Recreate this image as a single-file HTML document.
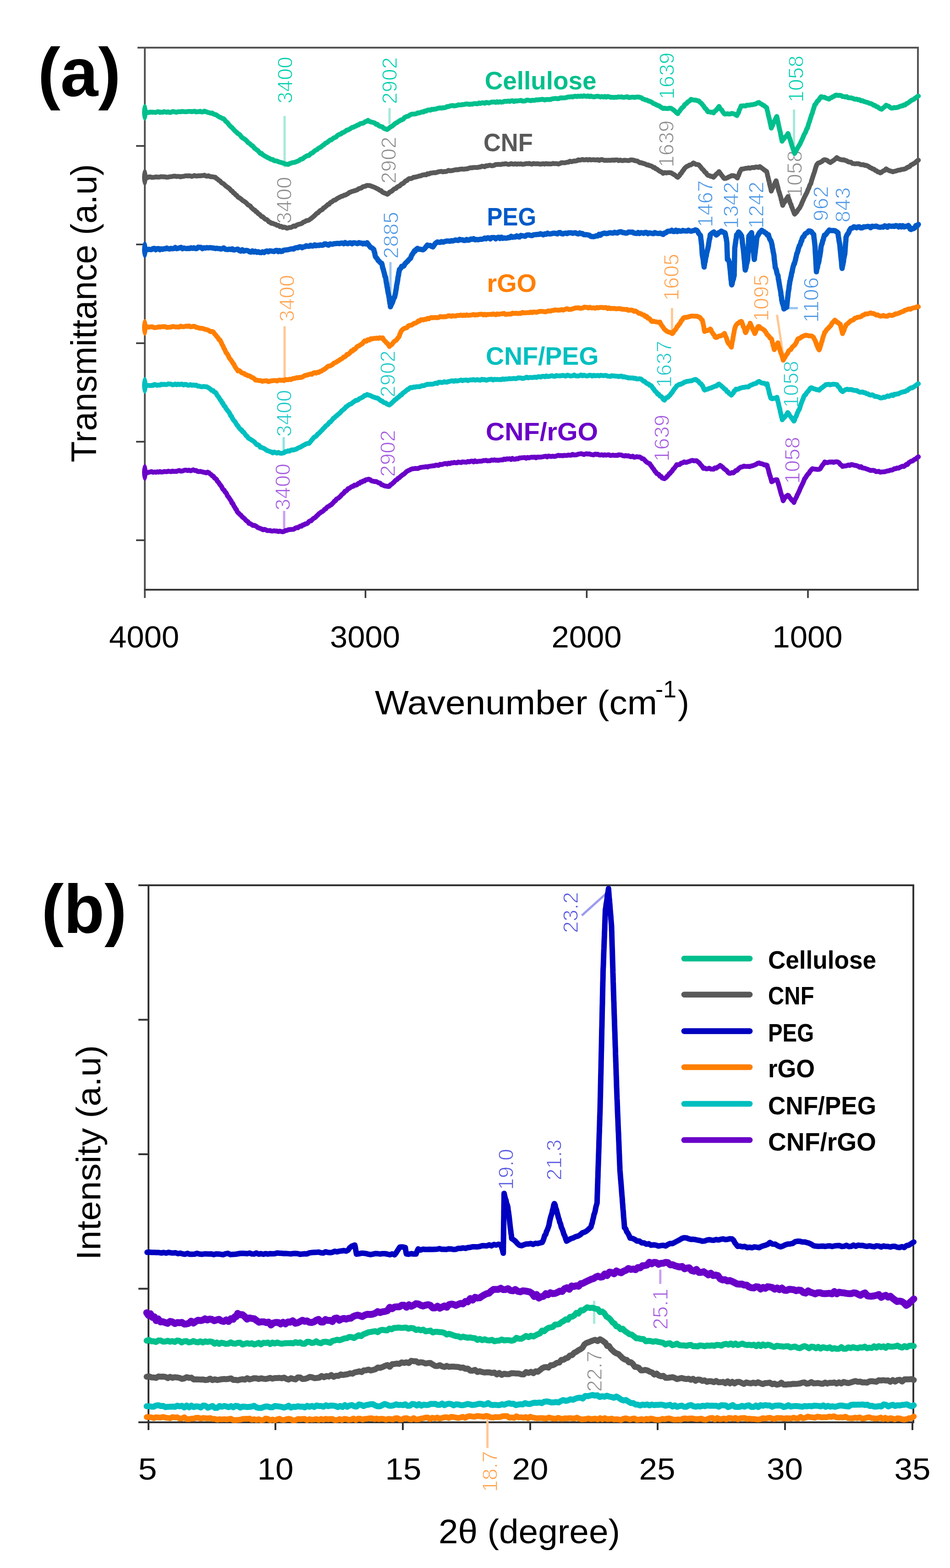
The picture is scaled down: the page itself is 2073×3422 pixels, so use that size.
<!DOCTYPE html>
<html><head><meta charset="utf-8"><title>FTIR and XRD spectra</title>
<style>html,body{margin:0;padding:0;background:#fff;}svg{display:block;}</style>
</head><body>
<svg width="2073" height="3422" viewBox="0 0 2073 3422" font-family="'Liberation Sans', Arial, sans-serif">
<rect width="2073" height="3422" fill="#fff"/>
<text x="173" y="210" font-size="150" fill="#000" font-weight="bold" text-anchor="middle" textLength="181" lengthAdjust="spacingAndGlyphs" >(a)</text>
<line x1="300" y1="104" x2="2005" y2="104" stroke="#555" stroke-width="4" stroke-linecap="butt"/>
<line x1="316" y1="102" x2="316" y2="1305" stroke="#555" stroke-width="4" stroke-linecap="butt"/>
<line x1="2003" y1="102" x2="2003" y2="1289" stroke="#555" stroke-width="4" stroke-linecap="butt"/>
<line x1="314" y1="1287" x2="2005" y2="1287" stroke="#3a3a3a" stroke-width="4" stroke-linecap="butt"/>
<line x1="297" y1="318.5" x2="316" y2="318.5" stroke="#3a3a3a" stroke-width="3.6" stroke-linecap="butt"/>
<line x1="297" y1="533.5" x2="316" y2="533.5" stroke="#3a3a3a" stroke-width="3.6" stroke-linecap="butt"/>
<line x1="297" y1="749" x2="316" y2="749" stroke="#3a3a3a" stroke-width="3.6" stroke-linecap="butt"/>
<line x1="297" y1="964" x2="316" y2="964" stroke="#3a3a3a" stroke-width="3.6" stroke-linecap="butt"/>
<line x1="297" y1="1179" x2="316" y2="1179" stroke="#3a3a3a" stroke-width="3.6" stroke-linecap="butt"/>
<line x1="797.5" y1="1287" x2="797.5" y2="1305" stroke="#3a3a3a" stroke-width="3.6" stroke-linecap="butt"/>
<line x1="1280.3" y1="1287" x2="1280.3" y2="1305" stroke="#3a3a3a" stroke-width="3.6" stroke-linecap="butt"/>
<line x1="1763" y1="1287" x2="1763" y2="1305" stroke="#3a3a3a" stroke-width="3.6" stroke-linecap="butt"/>
<text x="314.5" y="1413" font-size="66" fill="#000" font-weight="normal" text-anchor="middle" textLength="153" lengthAdjust="spacingAndGlyphs" >4000</text>
<text x="796.5" y="1413" font-size="66" fill="#000" font-weight="normal" text-anchor="middle" textLength="153" lengthAdjust="spacingAndGlyphs" >3000</text>
<text x="1280" y="1413" font-size="66" fill="#000" font-weight="normal" text-anchor="middle" textLength="153" lengthAdjust="spacingAndGlyphs" >2000</text>
<text x="1762" y="1413" font-size="66" fill="#000" font-weight="normal" text-anchor="middle" textLength="153" lengthAdjust="spacingAndGlyphs" >1000</text>
<text transform="translate(210 1009) rotate(-90)" font-size="77" fill="#000" font-weight="normal" text-anchor="start" textLength="651" lengthAdjust="spacingAndGlyphs" >Transmittance (a.u)</text>
<text x="818" y="1559" font-size="75" fill="#000" font-weight="normal" text-anchor="start" textLength="616" lengthAdjust="spacingAndGlyphs" >Wavenumber (cm</text>
<text x="1430" y="1522" font-size="52" fill="#000" font-weight="normal" text-anchor="start" textLength="46" lengthAdjust="spacingAndGlyphs" >-1</text>
<text x="1479" y="1559" font-size="75" fill="#000" font-weight="normal" text-anchor="start" textLength="25" lengthAdjust="spacingAndGlyphs" >)</text>
<line x1="621" y1="253" x2="621" y2="365" stroke="#a6e9da" stroke-width="5" stroke-linecap="butt"/>
<line x1="850" y1="236" x2="850" y2="271" stroke="#a6e9da" stroke-width="5" stroke-linecap="butt"/>
<line x1="1732.6" y1="239" x2="1732.6" y2="316" stroke="#a6e9da" stroke-width="5" stroke-linecap="butt"/>
<line x1="852" y1="572" x2="852" y2="660" stroke="#9cc6ef" stroke-width="5" stroke-linecap="butt"/>
<line x1="1718" y1="672.5" x2="1741" y2="672.5" stroke="#9cc6ef" stroke-width="5" stroke-linecap="butt"/>
<line x1="621" y1="712" x2="621" y2="824" stroke="#ffc894" stroke-width="5" stroke-linecap="butt"/>
<line x1="1466.4" y1="672" x2="1466.4" y2="723" stroke="#ffc894" stroke-width="5" stroke-linecap="butt"/>
<line x1="1695.5" y1="687" x2="1709" y2="776" stroke="#ffc894" stroke-width="5" stroke-linecap="butt"/>
<line x1="619" y1="954" x2="619" y2="984" stroke="#8ee4e4" stroke-width="5" stroke-linecap="butt"/>
<line x1="620" y1="1115" x2="620" y2="1154" stroke="#caa0f0" stroke-width="5" stroke-linecap="butt"/>
<text transform="translate(638.0 174.8) rotate(-90)" font-size="46" fill="#00cfae" font-weight="normal" text-anchor="middle" stroke="#fff" stroke-width="1.2">3400</text>
<text transform="translate(866.2 176.0) rotate(-90)" font-size="46" fill="#00cfae" font-weight="normal" text-anchor="middle" stroke="#fff" stroke-width="1.2">2902</text>
<text transform="translate(1471.2 165.5) rotate(-90)" font-size="46" fill="#00cfae" font-weight="normal" text-anchor="middle" stroke="#fff" stroke-width="1.2">1639</text>
<text transform="translate(1752.5 172.3) rotate(-90)" font-size="46" fill="#00cfae" font-weight="normal" text-anchor="middle" stroke="#fff" stroke-width="1.2">1058</text>
<text transform="translate(635.5 437.0) rotate(-90)" font-size="46" fill="#8c8c8c" font-weight="normal" text-anchor="middle" stroke="#fff" stroke-width="1.2">3400</text>
<text transform="translate(863.5 349.5) rotate(-90)" font-size="46" fill="#8c8c8c" font-weight="normal" text-anchor="middle" stroke="#fff" stroke-width="1.2">2902</text>
<text transform="translate(1470.0 313.8) rotate(-90)" font-size="46" fill="#8c8c8c" font-weight="normal" text-anchor="middle" stroke="#fff" stroke-width="1.2">1639</text>
<text transform="translate(1749.5 379.5) rotate(-90)" font-size="46" fill="#8c8c8c" font-weight="normal" text-anchor="middle" stroke="#fff" stroke-width="1.2">1058</text>
<text transform="translate(868.5 513.25) rotate(-90)" font-size="46" fill="#4a96e4" font-weight="normal" text-anchor="middle" stroke="#fff" stroke-width="1.2">2885</text>
<text transform="translate(1555.2 444.5) rotate(-90)" font-size="46" fill="#4a96e4" font-weight="normal" text-anchor="middle" stroke="#fff" stroke-width="1.2">1467</text>
<text transform="translate(1611.3 448.0) rotate(-90)" font-size="46" fill="#4a96e4" font-weight="normal" text-anchor="middle" stroke="#fff" stroke-width="1.2">1342</text>
<text transform="translate(1666.1 447.5) rotate(-90)" font-size="46" fill="#4a96e4" font-weight="normal" text-anchor="middle" stroke="#fff" stroke-width="1.2">1242</text>
<text transform="translate(1806.5 444.5) rotate(-90)" font-size="46" fill="#4a96e4" font-weight="normal" text-anchor="middle" stroke="#fff" stroke-width="1.2">962</text>
<text transform="translate(1855.1 447.04999999999995) rotate(-90)" font-size="46" fill="#4a96e4" font-weight="normal" text-anchor="middle" stroke="#fff" stroke-width="1.2">843</text>
<text transform="translate(1785.5 654.5) rotate(-90)" font-size="46" fill="#4a96e4" font-weight="normal" text-anchor="middle" stroke="#fff" stroke-width="1.2">1106</text>
<text transform="translate(641.5 651.0) rotate(-90)" font-size="46" fill="#ffa24c" font-weight="normal" text-anchor="middle" stroke="#fff" stroke-width="1.2">3400</text>
<text transform="translate(1481.0 604.8) rotate(-90)" font-size="46" fill="#ffa24c" font-weight="normal" text-anchor="middle" stroke="#fff" stroke-width="1.2">1605</text>
<text transform="translate(1677.0 650.0) rotate(-90)" font-size="46" fill="#ffa24c" font-weight="normal" text-anchor="middle" stroke="#fff" stroke-width="1.2">1095</text>
<text transform="translate(635.5 902.0) rotate(-90)" font-size="46" fill="#1cc8c8" font-weight="normal" text-anchor="middle" stroke="#fff" stroke-width="1.2">3400</text>
<text transform="translate(861.5 816.0) rotate(-90)" font-size="46" fill="#1cc8c8" font-weight="normal" text-anchor="middle" stroke="#fff" stroke-width="1.2">2902</text>
<text transform="translate(1465.1 794.9) rotate(-90)" font-size="46" fill="#1cc8c8" font-weight="normal" text-anchor="middle" stroke="#fff" stroke-width="1.2">1637</text>
<text transform="translate(1741.5 838.5) rotate(-90)" font-size="46" fill="#1cc8c8" font-weight="normal" text-anchor="middle" stroke="#fff" stroke-width="1.2">1058</text>
<text transform="translate(633.1 1062.85) rotate(-90)" font-size="46" fill="#a45ae0" font-weight="normal" text-anchor="middle" stroke="#fff" stroke-width="1.2">3400</text>
<text transform="translate(861.5 989.5) rotate(-90)" font-size="46" fill="#a45ae0" font-weight="normal" text-anchor="middle" stroke="#fff" stroke-width="1.2">2902</text>
<text transform="translate(1460.3 956.0) rotate(-90)" font-size="46" fill="#a45ae0" font-weight="normal" text-anchor="middle" stroke="#fff" stroke-width="1.2">1639</text>
<text transform="translate(1744.5 1004.5) rotate(-90)" font-size="46" fill="#a45ae0" font-weight="normal" text-anchor="middle" stroke="#fff" stroke-width="1.2">1058</text>
<path d="M316.0 245.0L319.0 244.2L322.0 245.6L325.0 245.4L328.0 244.4L331.0 244.9L334.0 244.7L337.0 245.1L340.0 245.4L343.0 243.9L346.0 243.8L349.0 245.4L352.0 244.5L355.0 245.2L358.0 243.6L361.0 244.5L364.0 245.0L367.0 244.0L370.0 245.4L373.0 245.3L376.1 243.5L379.1 243.4L382.2 244.4L385.2 245.1L388.2 244.0L391.3 243.6L394.3 244.0L397.4 243.1L400.4 243.5L403.4 243.8L406.5 243.9L409.5 243.3L412.6 243.3L415.6 243.2L418.6 243.7L421.7 243.3L424.7 242.7L427.8 244.3L430.8 243.7L433.8 243.8L436.9 242.8L439.9 244.4L443.0 244.1L446.0 242.5L449.4 243.7L452.8 245.1L456.2 245.8L459.6 247.0L463.0 246.6L465.8 248.8L468.6 249.8L471.4 250.4L474.2 252.3L477.0 254.3L479.6 255.8L482.2 256.7L484.8 258.5L487.4 259.0L490.0 261.0L492.2 264.5L494.5 266.2L496.8 268.1L499.0 271.3L501.2 274.0L503.5 276.3L505.7 278.0L507.9 280.3L510.1 282.7L512.4 285.4L514.6 287.1L516.8 289.1L519.0 291.5L521.5 292.6L523.9 294.7L526.4 298.1L528.8 300.7L531.2 301.9L533.7 303.6L536.1 305.2L538.6 307.9L541.0 310.9L543.5 312.5L546.0 314.3L548.4 317.1L550.9 318.1L553.3 320.8L555.8 323.9L558.2 325.4L560.6 327.3L563.1 329.1L565.5 331.9L568.0 334.9L570.7 334.6L573.3 337.7L576.0 339.3L578.7 341.0L581.3 342.3L584.0 344.0L586.7 344.9L589.3 346.6L592.0 347.9L595.1 348.1L598.2 350.7L601.4 351.1L604.5 351.4L607.6 353.0L610.8 354.0L613.9 354.7L617.0 355.7L620.0 356.8L623.0 357.7L626.0 358.5L629.0 358.9L632.0 356.9L635.0 356.2L638.0 354.9L641.0 354.6L644.0 354.0L647.0 352.7L650.0 351.6L653.0 350.1L656.0 347.5L659.0 347.2L662.0 345.3L665.0 342.7L668.0 341.0L671.0 339.5L674.0 339.5L676.6 336.7L679.2 334.6L681.7 333.8L684.3 331.4L686.9 329.1L689.5 327.5L692.1 326.4L694.6 323.9L697.2 322.3L699.8 321.3L702.4 319.0L704.9 316.9L707.5 315.4L710.1 312.7L712.7 311.6L715.3 309.9L717.8 307.6L720.4 305.6L723.0 305.4L725.6 303.1L728.2 300.9L730.8 300.1L733.5 299.0L736.1 295.8L738.7 294.3L741.3 292.9L743.9 292.5L746.5 289.8L749.1 289.4L751.8 287.7L754.4 285.9L757.0 283.7L759.6 283.7L762.5 282.0L765.4 280.1L768.3 278.2L771.2 277.7L774.1 275.9L777.0 275.0L779.9 273.1L782.7 272.5L785.6 270.0L788.5 269.2L791.4 269.2L794.3 267.7L797.2 265.2L800.1 265.0L803.0 262.6L805.9 265.1L808.8 266.0L811.8 266.6L814.7 267.5L817.6 268.3L820.5 271.3L823.2 270.9L825.9 273.8L828.7 275.5L831.4 276.1L834.1 276.6L836.8 279.4L839.6 280.9L842.3 281.8L845.0 282.7L847.7 280.6L850.3 278.6L853.0 276.4L855.7 275.4L858.3 273.1L861.0 270.7L863.7 268.6L866.3 267.8L869.0 265.2L871.7 264.0L874.4 262.0L877.2 261.5L879.9 259.9L882.6 256.5L885.3 255.3L888.1 253.9L890.8 253.6L893.5 251.6L896.5 249.9L899.6 248.9L902.6 249.1L905.6 248.7L908.7 248.1L911.7 246.2L914.7 246.5L917.8 245.4L920.8 244.2L923.8 244.5L926.8 242.2L929.9 242.5L932.9 240.4L935.9 239.8L939.0 240.6L942.0 238.4L945.1 239.0L948.1 238.1L951.2 238.1L954.2 236.6L957.3 236.0L960.3 235.4L963.4 236.1L966.4 235.0L969.5 235.2L972.5 234.5L975.6 232.5L978.6 232.8L981.7 231.4L984.7 230.7L987.8 230.3L990.8 231.3L993.9 230.6L996.9 230.2L1000.0 228.7L1003.0 229.0L1006.1 229.1L1009.1 228.1L1012.1 228.2L1015.2 227.3L1018.2 226.8L1021.2 227.0L1024.2 228.0L1027.3 227.1L1030.3 227.6L1033.3 226.4L1036.4 225.9L1039.4 226.6L1042.4 226.5L1045.5 224.6L1048.5 225.7L1051.5 224.4L1054.6 224.2L1057.6 225.5L1060.6 223.6L1063.7 223.8L1066.7 225.0L1069.7 223.7L1072.8 222.8L1075.8 222.7L1078.8 222.6L1081.8 223.4L1084.9 221.9L1087.9 223.3L1090.9 222.0L1094.0 223.0L1097.0 222.6L1100.1 221.2L1103.1 221.0L1106.2 221.3L1109.2 220.4L1112.3 221.4L1115.4 220.0L1118.4 219.8L1121.5 221.6L1124.6 220.0L1127.6 220.5L1130.7 220.0L1133.8 219.6L1136.8 219.0L1139.9 220.5L1142.9 220.5L1146.0 220.3L1149.1 218.5L1152.1 218.5L1155.2 219.2L1158.2 219.8L1161.3 218.7L1164.4 218.9L1167.4 218.7L1170.5 217.7L1173.6 218.1L1176.6 217.5L1179.7 217.2L1182.8 216.8L1185.8 217.0L1188.9 218.3L1191.9 217.0L1195.0 217.3L1198.0 217.0L1201.1 217.3L1204.1 215.9L1207.2 215.4L1210.2 215.1L1213.2 214.8L1216.3 215.5L1219.3 215.3L1222.4 213.8L1225.4 213.6L1228.5 213.7L1231.5 213.5L1234.5 213.2L1237.6 212.2L1240.6 211.4L1243.7 211.6L1246.7 210.9L1249.8 211.6L1252.8 210.3L1255.8 210.0L1258.9 210.8L1261.9 209.8L1265.0 210.5L1268.0 209.6L1271.0 210.4L1274.1 209.1L1277.1 209.9L1280.1 210.5L1283.2 209.2L1286.2 211.0L1289.3 209.6L1292.3 210.9L1295.3 211.4L1298.4 211.1L1301.4 210.2L1304.4 209.9L1307.5 210.8L1310.5 211.7L1313.6 210.5L1316.6 211.8L1319.6 210.4L1322.7 212.0L1325.7 210.4L1328.7 211.0L1331.8 212.3L1334.8 212.2L1337.9 212.5L1340.9 212.4L1343.9 212.3L1347.0 212.3L1350.0 211.4L1353.1 211.9L1356.3 211.3L1359.4 212.4L1362.6 212.3L1365.7 211.5L1368.9 211.1L1372.0 212.9L1375.1 212.6L1378.3 212.1L1381.4 212.1L1384.6 212.7L1387.7 211.9L1390.9 211.8L1394.0 211.7L1396.9 212.7L1399.8 213.4L1402.7 215.9L1405.6 216.6L1408.5 218.1L1411.4 218.3L1414.3 220.1L1417.2 220.9L1420.1 222.1L1423.0 223.5L1425.7 226.0L1428.3 226.6L1431.0 227.9L1433.7 229.7L1436.3 230.4L1439.0 231.3L1441.7 233.7L1444.3 235.0L1447.0 236.7L1450.5 236.3L1454.0 236.8L1457.5 236.9L1461.0 235.9L1464.5 236.4L1466.9 238.2L1469.3 239.5L1471.8 241.7L1474.2 243.8L1476.6 246.3L1479.0 248.1L1481.1 244.3L1483.2 242.4L1485.4 238.6L1487.5 236.1L1489.6 234.4L1491.8 232.5L1493.9 228.5L1496.0 227.1L1498.4 225.4L1500.8 222.4L1503.2 221.2L1505.6 219.6L1508.0 216.7L1511.4 217.9L1514.8 218.4L1518.2 218.6L1521.6 219.6L1525.0 220.1L1527.0 222.7L1529.0 224.3L1531.0 226.0L1533.0 228.6L1535.0 230.9L1537.0 234.1L1539.0 236.9L1541.0 237.9L1543.0 241.6L1545.0 244.1L1548.0 244.0L1551.0 244.9L1554.0 244.8L1557.0 246.5L1559.4 242.4L1561.8 241.6L1564.2 238.6L1566.6 235.6L1569.0 232.2L1571.0 236.2L1573.0 238.9L1575.0 239.9L1577.0 243.9L1579.0 246.6L1581.0 248.9L1584.2 248.8L1587.3 248.1L1590.5 248.9L1593.7 248.8L1596.8 247.4L1600.0 248.1L1602.7 249.1L1605.3 250.3L1608.0 252.4L1609.3 249.0L1610.6 247.6L1611.9 244.7L1613.1 240.1L1614.4 238.1L1615.7 234.8L1617.0 231.2L1620.1 231.2L1623.3 230.8L1626.4 231.4L1629.6 229.5L1632.7 229.5L1635.9 229.6L1639.0 228.4L1642.4 228.6L1645.8 227.5L1649.2 226.8L1652.6 224.5L1656.0 223.6L1658.8 225.8L1661.7 227.0L1664.5 229.4L1667.3 230.5L1670.2 233.1L1673.0 235.1L1673.7 238.1L1674.3 241.3L1675.0 243.4L1675.7 246.3L1676.3 249.9L1677.0 252.7L1677.7 255.3L1678.3 257.8L1679.0 260.6L1679.7 263.2L1680.3 267.5L1681.0 269.1L1681.7 273.3L1682.3 275.8L1683.0 279.6L1684.3 276.5L1685.7 274.2L1687.0 269.7L1688.3 267.7L1689.7 265.1L1691.0 261.9L1692.3 259.5L1693.7 256.5L1695.0 254.1L1695.6 256.0L1696.3 259.8L1696.9 262.8L1697.6 265.5L1698.2 268.6L1698.8 272.3L1699.5 275.1L1700.1 277.7L1700.8 280.9L1701.4 283.4L1702.0 286.0L1702.7 288.5L1703.3 292.0L1703.9 295.7L1704.6 299.2L1705.2 302.0L1705.9 304.4L1706.5 308.3L1708.7 304.6L1710.8 302.8L1713.0 299.3L1715.2 297.4L1717.3 295.3L1719.5 291.3L1720.5 293.9L1721.4 297.6L1722.4 300.3L1723.4 302.8L1724.3 305.0L1725.3 308.6L1726.3 311.5L1727.2 314.3L1728.2 318.1L1729.2 320.4L1730.1 323.6L1731.1 326.7L1732.1 329.3L1733.0 331.6L1734.0 335.0L1735.6 331.8L1737.3 328.9L1738.9 325.9L1740.6 322.5L1742.2 320.0L1743.9 317.0L1745.5 314.7L1746.9 311.4L1748.2 308.6L1749.6 305.6L1751.0 302.7L1752.4 299.4L1753.8 295.9L1755.1 292.9L1756.5 290.8L1757.9 288.2L1759.2 284.6L1760.6 280.9L1762.0 279.4L1762.9 275.7L1763.9 272.8L1764.8 269.0L1765.8 267.0L1766.7 264.6L1767.6 261.0L1768.6 257.9L1769.5 255.6L1770.5 251.4L1771.4 249.5L1772.4 247.4L1773.3 244.0L1774.2 240.5L1775.2 238.1L1776.1 235.1L1777.1 231.3L1778.0 228.4L1780.0 227.2L1782.0 223.3L1784.0 220.3L1786.0 219.3L1788.0 216.0L1790.0 213.1L1792.0 210.8L1795.4 212.3L1798.8 212.1L1802.2 214.0L1805.6 215.1L1809.0 216.3L1811.8 213.8L1814.7 213.0L1817.5 210.8L1820.3 210.0L1823.2 207.8L1826.0 207.6L1829.1 208.4L1832.2 208.0L1835.3 208.5L1838.4 210.7L1841.5 210.8L1844.5 211.8L1847.6 210.8L1850.7 213.3L1853.8 213.4L1856.9 213.5L1860.0 214.4L1863.1 215.8L1866.2 216.6L1869.4 216.2L1872.5 217.8L1875.6 217.6L1878.8 220.0L1881.9 219.7L1885.0 221.4L1888.0 222.3L1891.0 223.2L1894.0 223.8L1897.0 225.5L1900.0 225.9L1903.0 227.2L1906.0 229.5L1909.0 230.0L1912.0 232.5L1915.0 233.2L1918.0 235.8L1921.0 237.5L1924.0 238.4L1926.4 235.9L1928.8 234.3L1931.1 232.4L1933.5 229.5L1936.4 230.9L1939.3 231.9L1942.2 234.2L1945.1 236.0L1948.0 235.8L1951.0 234.6L1954.0 235.2L1957.0 234.6L1960.0 234.0L1963.0 232.5L1966.0 231.2L1969.0 231.3L1972.0 229.1L1975.0 229.4L1977.6 226.4L1980.3 225.3L1982.9 223.7L1985.5 221.7L1988.2 219.5L1990.8 217.9L1993.5 217.3L1996.1 214.8L1998.7 213.3L2001.4 210.8L2004.0 209.6" fill="none" stroke="#00bf8c" stroke-width="10.5" stroke-linejoin="round" stroke-linecap="round"/>
<ellipse cx="316" cy="245" rx="6" ry="18" fill="#00bf8c"/>
<path d="M316.0 387.0L319.0 387.8L322.0 387.7L325.0 385.9L328.0 385.9L331.0 387.3L334.0 387.0L337.0 386.8L340.0 386.0L343.0 386.5L346.0 386.5L349.0 386.3L352.0 385.4L355.0 385.9L358.0 385.8L361.0 386.3L364.0 386.8L367.0 386.6L370.0 385.8L373.0 385.5L376.0 385.1L379.0 384.5L382.0 384.4L385.0 385.2L388.0 384.9L391.0 384.9L394.0 385.9L397.0 385.1L400.1 385.0L403.1 384.2L406.2 383.6L409.2 384.0L412.3 383.5L415.4 384.1L418.4 384.9L421.5 384.1L424.6 383.0L427.6 384.2L430.7 383.9L433.8 383.6L436.8 383.8L439.9 383.3L442.9 383.2L446.0 382.2L449.0 384.0L452.0 384.5L455.0 383.5L458.0 385.3L461.0 385.7L464.0 385.8L467.0 386.5L470.0 387.0L472.5 389.8L475.0 391.0L477.5 393.7L480.0 394.7L482.5 397.8L485.0 399.8L487.5 400.9L490.0 403.1L492.5 405.8L495.0 407.4L497.4 409.2L499.8 410.8L502.2 413.2L504.6 416.2L507.0 417.3L509.4 421.0L511.8 421.9L514.2 425.4L516.6 426.4L519.0 429.9L521.5 431.3L523.9 432.8L526.4 434.7L528.8 436.9L531.2 438.7L533.7 440.0L536.1 441.7L538.6 444.2L541.0 447.0L543.5 448.2L546.0 449.4L548.4 453.0L550.9 455.1L553.3 457.6L555.8 458.4L558.2 461.7L560.6 462.5L563.1 465.9L565.5 467.3L568.0 469.5L570.7 472.6L573.3 473.0L576.0 475.7L578.7 478.3L581.3 478.9L584.0 480.8L586.7 484.0L589.3 485.0L592.0 487.4L595.1 487.2L598.2 489.0L601.4 489.7L604.5 491.8L607.6 491.8L610.8 494.7L613.9 493.9L617.0 496.5L620.0 495.5L623.0 496.5L626.0 498.1L629.0 497.3L632.0 496.4L635.0 496.4L638.0 494.8L641.0 493.1L644.0 494.0L647.0 491.3L650.0 490.1L653.0 489.3L656.0 488.5L659.0 487.4L662.0 484.7L665.0 483.8L668.0 481.8L671.0 481.3L674.0 480.5L676.5 478.5L678.9 476.9L681.4 474.7L683.8 472.9L686.2 470.7L688.7 468.2L691.1 465.8L693.6 464.7L696.0 462.1L698.5 459.7L701.0 458.4L703.4 457.3L705.9 453.9L708.3 452.9L710.8 450.5L713.2 448.8L715.6 446.1L718.1 445.8L720.5 442.5L723.0 441.2L725.8 439.3L728.6 437.0L731.4 436.6L734.3 434.3L737.1 432.6L739.9 431.1L742.7 429.8L745.5 428.2L748.3 427.8L751.2 426.0L754.0 425.5L756.8 423.9L759.6 422.5L762.5 419.8L765.4 419.1L768.3 417.6L771.2 417.1L774.1 416.0L777.0 415.3L779.9 413.9L782.7 411.9L785.6 411.1L788.5 410.2L791.4 408.0L794.3 406.9L797.2 406.5L800.1 404.8L803.0 404.8L805.9 404.9L808.8 405.6L811.8 406.8L814.7 407.9L817.6 408.9L820.5 410.5L823.2 411.9L825.9 413.1L828.7 415.3L831.4 415.9L834.1 418.8L836.8 420.4L839.6 421.5L842.3 422.4L845.0 424.0L847.7 422.3L850.3 419.3L853.0 418.2L855.7 416.5L858.3 413.9L861.0 411.9L863.7 411.4L866.3 408.6L869.0 407.0L871.7 406.0L874.4 403.4L877.2 400.9L879.9 400.4L882.6 397.3L885.3 394.7L888.1 394.1L890.8 391.1L893.5 389.6L896.5 389.9L899.6 388.8L902.6 386.7L905.6 386.8L908.7 385.9L911.7 385.3L914.7 384.0L917.8 384.0L920.8 382.2L923.8 381.8L926.8 381.2L929.9 381.6L932.9 379.1L935.9 379.7L939.0 377.8L942.0 377.7L945.1 377.0L948.1 376.7L951.2 376.9L954.2 375.8L957.3 374.8L960.3 374.4L963.4 374.0L966.4 375.1L969.5 374.3L972.5 374.5L975.6 373.6L978.6 371.8L981.7 372.7L984.7 372.6L987.8 372.0L990.8 371.2L993.9 370.5L996.9 370.3L1000.0 370.6L1003.0 369.2L1006.1 369.3L1009.1 368.8L1012.1 369.4L1015.2 368.7L1018.2 368.6L1021.2 368.0L1024.2 366.6L1027.3 366.1L1030.3 366.2L1033.3 365.4L1036.4 365.4L1039.4 365.5L1042.4 365.6L1045.5 364.5L1048.5 364.6L1051.5 362.8L1054.6 363.0L1057.6 363.9L1060.6 361.8L1063.7 362.0L1066.7 360.9L1069.7 360.5L1072.8 361.8L1075.8 361.6L1078.8 360.5L1081.8 359.1L1084.9 359.1L1087.9 358.6L1090.9 359.1L1094.0 358.7L1097.0 357.9L1100.0 358.0L1103.1 357.2L1106.2 358.0L1109.2 358.8L1112.2 358.4L1115.3 357.0L1118.3 357.9L1121.4 358.2L1124.5 357.3L1127.5 358.5L1130.5 357.6L1133.6 358.1L1136.7 357.5L1139.7 358.6L1142.8 358.2L1145.8 357.7L1148.8 356.9L1151.9 357.4L1155.0 356.6L1158.0 357.7L1161.0 358.2L1164.1 356.8L1167.2 357.4L1170.2 357.4L1173.2 357.2L1176.3 357.8L1179.3 358.2L1182.4 357.7L1185.5 357.2L1188.5 358.2L1191.5 356.9L1194.6 357.7L1197.7 357.5L1200.7 357.7L1203.8 357.8L1206.8 356.5L1209.8 357.3L1212.9 356.9L1216.0 357.4L1219.0 358.0L1222.1 356.7L1225.1 354.9L1228.2 355.3L1231.2 355.3L1234.3 355.1L1237.4 354.1L1240.4 353.9L1243.5 351.7L1246.6 353.0L1249.6 352.1L1252.7 351.3L1255.8 351.4L1258.8 350.8L1261.9 348.7L1264.9 349.6L1268.0 348.9L1271.0 347.9L1274.1 349.0L1277.1 348.8L1280.1 348.0L1283.2 349.3L1286.2 348.0L1289.3 349.0L1292.3 348.7L1295.3 348.4L1298.4 349.1L1301.4 349.0L1304.4 348.5L1307.5 350.1L1310.5 348.4L1313.6 348.3L1316.6 349.3L1319.6 350.1L1322.7 349.8L1325.7 350.0L1328.7 349.6L1331.8 350.0L1334.8 349.4L1337.9 349.3L1340.9 349.8L1343.9 348.9L1347.0 349.1L1350.0 350.5L1353.2 349.3L1356.4 350.4L1359.6 350.4L1362.8 349.6L1366.0 350.1L1369.2 350.3L1372.4 350.4L1375.6 348.9L1378.8 349.0L1382.0 349.4L1384.9 350.5L1387.9 351.1L1390.8 351.5L1393.7 353.5L1396.6 355.3L1399.6 355.1L1402.5 356.4L1405.4 357.0L1408.4 358.1L1411.3 359.9L1414.2 359.7L1417.1 361.4L1420.1 362.0L1423.0 363.1L1425.7 365.5L1428.3 365.4L1431.0 368.5L1433.7 369.1L1436.3 371.4L1439.0 373.3L1441.7 374.7L1444.3 375.8L1447.0 378.3L1450.5 376.5L1454.0 377.4L1457.5 376.7L1461.0 376.7L1464.5 377.1L1466.9 378.8L1469.3 380.3L1471.8 381.5L1474.2 383.2L1476.6 385.5L1479.0 386.9L1480.9 384.5L1482.8 383.4L1484.7 379.3L1486.6 378.3L1488.4 375.0L1490.3 372.5L1492.2 370.0L1494.1 367.1L1496.0 365.4L1498.8 363.2L1501.7 362.1L1504.5 360.2L1507.3 359.8L1510.2 358.2L1513.0 355.6L1516.0 357.2L1519.0 359.0L1522.0 359.0L1525.0 359.8L1527.2 362.5L1529.4 364.8L1531.7 368.3L1533.9 370.1L1536.1 372.5L1538.3 375.8L1540.6 377.1L1542.8 380.7L1545.0 382.8L1548.0 383.2L1551.0 384.9L1554.0 384.8L1557.0 386.8L1559.4 384.5L1561.8 381.2L1564.2 379.2L1566.6 377.3L1569.0 374.5L1571.0 377.2L1573.0 380.1L1575.0 382.9L1577.0 385.2L1579.0 388.3L1581.0 389.6L1584.2 389.0L1587.3 387.9L1590.5 386.0L1593.7 384.9L1596.8 383.2L1600.0 383.5L1603.0 384.0L1606.0 386.0L1609.0 388.6L1610.3 384.4L1611.6 383.1L1612.9 378.7L1614.1 375.7L1615.4 373.6L1616.7 370.8L1618.0 369.1L1621.1 368.8L1624.2 368.2L1627.2 367.3L1630.3 367.2L1633.4 366.3L1636.5 367.2L1639.5 366.0L1642.6 365.5L1645.7 365.9L1648.8 364.6L1651.8 364.6L1654.9 365.6L1658.0 363.6L1660.5 365.4L1663.0 367.3L1665.5 369.1L1668.0 371.2L1670.5 372.6L1673.0 374.5L1673.7 377.3L1674.4 380.2L1675.1 383.9L1675.9 386.4L1676.6 389.4L1677.3 393.2L1678.0 394.7L1678.7 397.9L1679.4 402.2L1680.1 404.4L1680.9 408.0L1681.6 409.7L1682.3 413.5L1683.0 417.1L1684.3 413.3L1685.6 411.4L1686.9 408.3L1688.2 405.1L1689.6 403.6L1690.9 399.6L1692.2 397.0L1693.5 394.5L1694.3 396.9L1695.1 400.9L1695.9 403.4L1696.7 406.3L1697.5 409.2L1698.3 413.0L1699.1 416.0L1699.9 418.6L1700.8 420.8L1701.6 423.7L1702.4 426.9L1703.2 428.9L1704.0 431.9L1704.8 436.7L1705.6 437.9L1706.4 442.5L1707.2 444.9L1708.0 448.3L1709.6 444.1L1711.3 441.9L1712.9 440.3L1714.6 436.2L1716.2 433.8L1717.9 431.7L1719.5 428.7L1720.6 431.7L1721.7 435.7L1722.8 437.6L1724.0 442.3L1725.1 444.7L1726.2 446.5L1727.3 451.1L1728.4 452.8L1729.5 456.3L1730.7 459.4L1731.8 461.6L1732.9 465.3L1734.0 467.4L1735.9 465.1L1737.7 463.9L1739.6 461.1L1741.4 457.9L1743.3 455.6L1745.1 453.4L1747.0 449.3L1748.3 447.1L1749.6 443.5L1750.9 440.6L1752.2 437.6L1753.5 435.0L1754.8 431.7L1756.1 429.2L1757.4 426.6L1758.6 424.2L1759.9 421.8L1761.2 419.0L1762.5 415.7L1763.8 412.4L1765.1 410.3L1766.4 405.9L1767.7 402.9L1769.0 401.4L1770.0 398.0L1770.9 394.1L1771.9 391.4L1772.9 388.2L1773.8 385.4L1774.8 382.3L1775.8 379.2L1776.7 376.9L1777.7 373.9L1778.6 370.4L1779.6 367.1L1780.6 363.7L1781.5 361.6L1782.5 359.0L1785.4 355.9L1788.3 355.2L1791.2 353.6L1794.2 351.9L1797.1 349.1L1800.0 348.5L1803.0 349.3L1806.0 350.8L1809.0 353.1L1812.0 354.8L1814.8 352.8L1817.6 351.1L1820.4 349.1L1823.2 346.7L1826.0 343.9L1829.1 346.3L1832.2 347.4L1835.3 348.4L1838.4 349.0L1841.5 348.8L1844.5 350.1L1847.6 351.0L1850.7 353.0L1853.8 353.8L1856.9 354.1L1860.0 356.6L1863.0 357.1L1866.0 357.5L1869.0 357.1L1872.0 357.2L1875.0 357.6L1878.0 359.3L1881.0 359.5L1884.0 359.2L1887.0 360.9L1890.0 360.7L1892.8 362.0L1895.6 363.5L1898.5 365.7L1901.3 366.7L1904.1 368.6L1906.9 369.1L1909.7 371.8L1912.5 372.5L1915.4 375.3L1918.2 375.5L1921.0 377.3L1923.5 376.0L1926.0 373.9L1928.5 372.5L1931.0 371.6L1933.5 368.4L1936.4 370.7L1939.3 371.8L1942.2 373.2L1945.1 373.7L1948.0 374.9L1951.2 373.9L1954.4 373.4L1957.7 372.2L1960.9 371.3L1964.1 371.1L1967.3 369.7L1970.6 369.5L1973.8 368.9L1977.0 367.6L1979.7 365.5L1982.4 364.5L1985.1 363.2L1987.8 360.1L1990.5 359.0L1993.2 357.3L1995.9 355.9L1998.6 353.6L2001.3 351.1L2004.0 349.6" fill="none" stroke="#595959" stroke-width="10.5" stroke-linejoin="round" stroke-linecap="round"/>
<ellipse cx="316" cy="387" rx="6" ry="18" fill="#595959"/>
<path d="M316.0 545.0L319.0 543.9L322.0 544.8L325.0 544.1L328.0 544.7L331.0 544.7L334.0 542.5L337.0 542.1L340.0 545.0L343.0 542.7L346.0 542.5L349.0 545.0L352.0 543.0L355.0 544.2L358.0 542.7L361.0 543.1L364.0 541.2L367.0 542.8L370.0 543.5L373.0 542.1L376.1 542.8L379.3 542.5L382.4 540.2L385.5 542.7L388.7 542.0L391.8 540.9L394.9 539.8L398.1 542.8L401.2 541.3L404.3 542.1L407.5 542.6L410.6 542.0L413.7 542.6L416.9 540.7L420.0 542.1L423.1 540.8L426.2 542.6L429.3 542.4L432.4 539.6L435.6 539.7L438.7 540.0L441.8 542.7L444.9 540.8L448.0 541.5L451.1 540.3L454.2 541.0L457.3 540.6L460.4 540.5L463.6 541.3L466.7 541.3L469.8 542.5L472.9 541.7L476.0 542.5L479.1 542.6L482.2 543.4L485.2 542.5L488.3 541.0L491.4 543.8L494.5 544.5L497.5 544.6L500.6 543.7L503.7 544.5L506.8 543.0L509.8 545.6L512.9 545.0L516.0 544.2L519.2 543.8L522.3 547.0L525.5 547.9L528.6 545.1L531.8 548.0L534.9 547.0L538.1 546.4L541.2 547.3L544.4 549.4L547.5 550.2L550.7 547.6L553.8 550.0L557.0 548.4L560.2 550.7L563.4 549.2L566.5 551.1L569.7 551.4L572.9 549.6L576.1 551.2L579.3 548.7L582.5 547.7L585.6 549.5L588.8 547.4L592.0 547.9L595.0 548.4L598.0 548.9L601.0 547.0L604.0 546.4L607.0 549.1L610.0 546.8L613.0 548.9L616.0 548.4L619.1 545.9L622.2 545.6L625.3 545.2L628.4 545.0L631.5 544.2L634.5 543.4L637.6 543.0L640.7 543.5L643.8 541.3L646.9 540.4L650.0 540.8L653.1 538.7L656.1 538.6L659.2 540.7L662.2 538.8L665.3 538.5L668.4 536.3L671.4 537.4L674.5 537.6L677.6 535.3L680.6 537.1L683.7 536.8L686.8 534.4L689.8 536.2L692.9 535.2L695.9 535.7L699.0 534.2L702.0 535.2L705.0 535.1L708.0 532.3L711.0 532.2L714.0 534.2L717.0 535.0L720.0 532.2L723.0 532.7L726.0 533.0L729.0 531.7L732.0 531.7L735.0 531.3L738.0 531.2L741.0 531.8L744.0 530.5L747.0 530.6L750.0 532.0L753.0 529.3L756.0 531.2L759.0 531.8L762.0 530.3L765.0 530.0L768.0 532.1L771.0 530.1L774.0 529.9L777.0 530.8L780.0 531.7L783.0 529.6L786.0 530.4L789.0 530.4L792.0 532.2L795.0 530.8L798.0 532.3L801.0 529.8L803.4 532.9L805.9 536.4L808.3 539.7L810.7 540.6L813.2 542.3L815.6 544.3L816.6 549.2L817.6 551.4L818.5 557.0L819.5 560.5L820.5 561.6L822.9 564.4L825.4 568.7L827.8 570.6L830.3 573.6L832.7 574.4L833.5 576.7L834.3 580.3L835.1 585.1L835.9 586.2L836.7 589.4L837.5 592.7L838.4 595.7L839.2 598.7L840.0 603.5L840.8 603.8L841.6 606.2L842.4 612.6L842.9 615.4L843.4 618.8L843.9 619.8L844.4 624.6L844.9 627.5L845.4 628.0L845.9 632.9L846.4 636.2L846.9 638.6L847.5 641.1L848.0 643.2L848.5 646.4L849.0 649.0L849.5 651.4L850.0 656.3L850.5 658.2L851.0 663.1L851.5 663.4L852.0 669.5L853.2 665.9L854.5 663.9L855.8 661.0L857.0 658.2L858.2 654.2L859.5 649.4L860.8 649.2L862.0 644.3L862.5 641.7L863.0 639.9L863.5 636.4L864.0 632.9L864.5 631.7L865.0 627.4L865.5 623.4L866.0 620.0L866.5 619.1L867.1 614.6L867.6 612.6L868.1 608.0L868.6 604.4L869.1 602.5L869.6 600.5L870.1 595.1L870.6 594.2L871.1 591.6L871.6 588.1L874.0 586.2L876.5 581.2L878.9 581.5L881.4 580.3L883.8 575.4L885.8 573.8L887.9 571.4L889.9 569.9L891.9 567.2L894.0 565.0L896.0 563.7L897.7 558.1L899.4 555.5L901.1 552.9L902.9 550.1L904.6 547.1L906.3 547.5L908.0 544.3L911.0 542.1L913.9 544.1L916.9 544.0L919.8 544.5L922.8 545.2L925.2 543.8L927.6 541.2L930.1 537.9L932.5 534.9L935.5 535.9L938.6 535.6L941.7 537.7L944.7 538.8L947.1 535.2L949.5 531.8L952.0 529.8L954.4 528.1L957.4 528.7L960.5 529.0L963.5 527.2L966.6 528.5L969.6 527.5L972.6 526.5L975.7 526.0L978.7 526.1L981.8 526.6L984.8 525.2L987.8 525.9L990.9 524.8L993.9 523.7L997.0 524.4L1000.0 524.7L1003.0 522.3L1006.1 523.4L1009.1 523.3L1012.1 524.7L1015.2 524.8L1018.2 522.6L1021.2 524.3L1024.2 523.8L1027.3 521.7L1030.3 522.3L1033.3 520.9L1036.4 523.3L1039.4 522.6L1042.4 523.2L1045.5 522.7L1048.5 522.1L1051.5 522.2L1054.6 521.4L1057.6 519.6L1060.6 521.2L1063.7 518.9L1066.7 519.3L1069.7 521.4L1072.8 518.6L1075.8 518.6L1078.8 518.5L1081.8 521.2L1084.9 518.5L1087.9 517.8L1090.9 520.5L1094.0 517.8L1097.0 520.2L1100.1 519.3L1103.1 519.7L1106.2 519.8L1109.2 518.2L1112.3 518.7L1115.3 515.7L1118.4 518.0L1121.4 516.8L1124.5 517.3L1127.6 514.8L1130.6 516.8L1133.7 517.2L1136.7 513.8L1139.8 514.5L1142.8 515.1L1145.9 515.7L1148.9 513.3L1152.0 512.8L1155.1 512.8L1158.1 513.9L1161.2 514.1L1164.2 512.5L1167.3 512.1L1170.3 512.0L1173.4 511.5L1176.4 511.5L1179.5 510.0L1182.6 511.2L1185.6 512.6L1188.7 510.4L1191.7 511.3L1194.8 508.9L1197.8 510.5L1200.9 510.5L1203.9 509.9L1207.0 509.1L1210.0 508.9L1213.1 509.5L1216.2 510.4L1219.2 507.7L1222.2 507.5L1225.3 509.9L1228.3 510.5L1231.4 509.1L1234.5 508.8L1237.5 509.8L1240.5 507.9L1243.6 508.2L1246.7 507.9L1249.7 509.3L1252.8 508.3L1255.8 508.0L1258.8 509.7L1261.9 510.6L1265.0 508.3L1268.0 509.7L1271.0 509.7L1273.9 512.2L1276.9 512.2L1279.9 512.0L1282.8 512.8L1285.8 513.1L1288.8 515.7L1291.7 516.3L1294.7 516.5L1297.8 516.0L1301.0 514.6L1304.1 515.0L1307.2 511.4L1310.3 513.3L1313.5 510.2L1316.6 509.4L1319.6 508.7L1322.7 509.8L1325.7 509.5L1328.7 508.4L1331.8 507.9L1334.8 508.5L1337.9 508.8L1340.9 507.0L1343.9 508.0L1347.0 508.6L1350.0 506.6L1353.0 505.8L1356.1 506.0L1359.1 507.8L1362.1 507.7L1365.2 508.9L1368.2 508.6L1371.2 506.5L1374.2 506.4L1377.3 506.8L1380.3 506.6L1383.3 508.6L1386.4 509.2L1389.4 509.5L1392.4 507.3L1395.5 509.6L1398.5 507.7L1401.5 508.2L1404.6 509.4L1407.6 507.2L1410.6 507.3L1413.7 510.1L1416.7 508.2L1419.7 508.6L1422.8 509.5L1425.8 509.9L1428.8 507.6L1431.8 508.9L1434.9 509.4L1437.9 509.6L1440.9 508.8L1444.0 510.2L1447.0 511.6L1450.2 508.4L1453.3 507.8L1456.5 505.0L1459.6 504.4L1462.8 504.6L1465.8 502.5L1468.9 505.3L1471.9 505.3L1474.9 502.3L1478.0 505.3L1481.0 503.2L1484.0 504.5L1487.1 504.4L1490.1 502.7L1493.1 504.0L1496.1 503.9L1499.2 504.3L1502.2 502.3L1505.2 504.0L1508.3 504.7L1511.3 503.6L1514.3 503.1L1517.4 501.5L1520.4 502.8L1522.4 504.9L1524.4 508.9L1526.4 511.5L1528.4 513.7L1528.8 515.7L1529.3 520.7L1529.7 524.0L1530.1 525.7L1530.6 531.7L1531.0 534.2L1531.2 535.3L1531.4 541.3L1531.6 541.5L1531.8 545.2L1532.0 549.7L1532.2 552.3L1532.4 555.2L1532.9 558.5L1533.3 560.8L1533.8 563.3L1534.2 565.7L1534.7 568.3L1535.1 573.6L1535.6 576.8L1536.0 579.0L1536.5 582.7L1537.1 578.2L1537.6 574.8L1538.2 572.2L1538.8 570.9L1539.4 564.9L1539.9 563.5L1540.5 559.5L1541.2 558.4L1541.8 553.8L1542.5 550.8L1543.2 548.0L1543.8 545.5L1544.5 543.3L1545.1 538.8L1545.8 537.5L1546.4 531.6L1546.9 529.0L1547.5 525.1L1548.1 521.9L1548.7 521.0L1549.2 517.6L1549.8 512.4L1552.5 509.7L1555.2 507.9L1557.9 506.4L1560.6 509.9L1563.2 512.9L1565.9 510.7L1568.6 507.5L1571.3 506.8L1574.0 504.4L1578.0 506.8L1582.0 508.2L1582.7 510.1L1583.3 513.4L1584.0 518.5L1584.7 519.0L1585.3 524.9L1586.0 528.4L1586.1 531.8L1586.2 533.0L1586.3 536.9L1586.4 540.2L1586.5 543.6L1586.7 548.1L1586.8 550.2L1586.9 552.1L1587.0 557.3L1587.1 559.2L1587.2 562.8L1587.3 566.5L1589.3 566.6L1591.4 572.0L1591.7 574.7L1592.0 577.1L1592.3 580.3L1592.6 583.2L1593.0 585.3L1593.3 589.6L1593.6 590.9L1593.9 595.6L1594.2 599.2L1594.5 601.6L1594.8 605.1L1595.1 609.6L1595.5 612.4L1595.8 612.8L1596.1 618.2L1596.4 620.7L1596.7 621.7L1597.5 619.6L1598.2 615.9L1599.0 612.1L1599.7 610.5L1600.5 608.6L1601.2 603.2L1602.0 601.9L1602.1 598.3L1602.1 593.3L1602.2 592.8L1602.3 588.9L1602.3 587.1L1602.4 583.3L1602.5 580.4L1602.6 575.9L1602.6 574.6L1602.7 572.0L1602.8 568.7L1602.8 564.2L1602.9 562.3L1603.0 558.3L1603.1 554.0L1603.1 550.7L1603.2 547.8L1603.3 545.3L1603.3 542.1L1603.4 540.3L1603.9 538.0L1604.3 534.5L1604.8 531.1L1605.2 528.9L1605.7 524.7L1606.1 522.3L1606.6 520.4L1607.0 516.1L1607.5 512.4L1609.5 510.9L1611.5 506.3L1613.7 508.1L1616.0 511.2L1618.2 514.9L1618.6 518.4L1619.0 520.2L1619.4 522.7L1619.8 526.6L1620.2 531.9L1620.6 532.8L1621.0 537.2L1621.4 539.5L1621.8 542.7L1622.2 545.8L1622.5 549.7L1622.8 551.9L1623.1 554.5L1623.3 557.8L1623.6 561.1L1623.9 565.3L1624.2 566.8L1624.5 569.7L1624.8 574.3L1625.1 577.2L1625.3 581.4L1625.6 582.1L1625.9 586.4L1626.2 589.4L1627.0 584.8L1627.7 585.0L1628.5 579.0L1629.3 575.3L1630.1 573.4L1630.8 569.1L1631.6 567.4L1631.8 563.3L1631.9 559.4L1632.1 555.9L1632.2 555.2L1632.4 550.5L1632.5 549.2L1632.7 544.8L1632.8 543.4L1633.0 538.0L1633.1 534.6L1633.3 531.5L1633.4 530.4L1633.6 526.6L1633.7 522.4L1633.9 518.3L1634.0 517.3L1634.2 515.2L1637.1 511.8L1640.0 507.7L1640.3 510.8L1640.6 514.1L1640.9 517.4L1641.2 519.9L1641.6 523.0L1641.9 528.2L1642.2 532.1L1642.5 532.6L1642.8 538.4L1643.1 539.7L1643.4 543.9L1643.7 547.3L1644.0 550.4L1644.3 550.2L1644.7 554.2L1645.0 558.3L1645.3 562.6L1645.6 562.5L1645.9 566.3L1646.3 565.1L1646.6 559.3L1647.0 557.2L1647.4 553.9L1647.7 552.0L1648.1 549.7L1648.5 543.9L1648.8 542.8L1649.2 539.6L1649.6 536.8L1650.0 532.7L1650.3 530.9L1650.7 525.7L1651.1 522.8L1651.4 519.0L1651.8 517.8L1653.9 513.8L1655.9 510.1L1658.0 506.8L1660.0 505.8L1662.1 502.5L1664.5 504.8L1667.0 505.6L1669.4 508.0L1671.9 508.7L1674.3 512.7L1676.8 512.2L1678.0 516.7L1679.3 520.7L1680.5 523.4L1681.7 524.2L1683.0 527.7L1684.2 532.8L1684.8 535.2L1685.3 539.2L1685.8 542.3L1686.4 543.9L1687.0 548.7L1687.5 551.2L1688.0 552.9L1688.6 556.1L1689.0 558.4L1689.3 562.9L1689.7 568.2L1690.1 568.5L1690.5 573.5L1690.8 575.1L1691.2 578.4L1691.6 583.7L1692.6 585.4L1693.6 587.9L1694.5 591.5L1695.5 596.5L1696.5 599.4L1697.5 600.5L1698.0 604.5L1698.6 610.3L1699.2 610.7L1699.7 615.1L1700.2 617.7L1700.8 622.1L1701.4 624.6L1701.9 628.4L1702.4 630.8L1702.9 632.8L1703.4 636.0L1703.9 639.0L1704.3 644.9L1704.8 645.6L1705.3 648.6L1705.8 655.2L1706.3 655.7L1707.2 661.5L1708.1 661.8L1708.9 666.4L1709.8 668.8L1710.7 674.2L1713.7 671.9L1716.6 670.5L1716.9 667.8L1717.3 665.1L1717.6 660.1L1717.9 657.9L1718.3 654.2L1718.6 649.9L1718.9 649.4L1719.3 645.5L1719.6 643.1L1720.1 637.7L1720.6 635.6L1721.1 632.1L1721.6 629.8L1722.0 624.1L1722.5 621.8L1723.0 619.1L1723.5 614.3L1724.0 612.8L1724.7 610.5L1725.3 606.4L1726.0 604.3L1726.6 601.2L1727.3 596.8L1727.9 594.3L1728.6 593.7L1729.2 588.4L1729.9 585.8L1730.8 581.6L1731.7 579.1L1732.5 576.0L1733.4 575.9L1734.3 572.2L1735.0 569.8L1735.8 567.3L1736.5 563.0L1737.2 561.2L1738.0 556.8L1738.7 553.4L1739.6 552.4L1740.5 549.3L1741.4 546.5L1742.3 541.9L1743.2 540.0L1744.4 535.7L1745.6 534.9L1746.8 531.7L1748.1 526.5L1749.3 525.8L1750.5 520.2L1752.3 516.9L1754.2 516.2L1756.1 511.7L1757.9 509.6L1761.3 508.0L1764.8 503.9L1768.2 504.5L1770.7 505.7L1773.1 509.2L1775.6 511.8L1776.0 516.6L1776.3 519.9L1776.7 521.6L1777.0 524.3L1777.4 528.3L1777.8 532.0L1778.1 534.2L1778.5 537.8L1778.7 543.1L1778.9 546.0L1779.0 550.1L1779.2 553.2L1779.4 555.9L1779.6 557.2L1779.7 559.6L1779.9 563.3L1780.1 566.9L1780.3 570.3L1780.4 573.4L1780.6 575.9L1780.8 580.8L1781.0 581.9L1781.1 585.6L1781.3 590.3L1781.5 593.1L1782.2 588.3L1783.0 585.2L1783.7 584.3L1784.5 578.4L1785.2 575.9L1785.9 574.4L1786.7 571.5L1787.4 567.2L1787.9 563.5L1788.4 560.8L1788.9 559.6L1789.4 555.2L1789.8 553.8L1790.3 549.8L1790.8 547.3L1791.3 540.6L1791.8 537.9L1792.7 534.1L1793.6 532.5L1794.5 529.0L1795.4 524.8L1796.4 523.5L1797.3 518.7L1798.2 516.4L1799.1 513.0L1801.7 512.4L1804.3 508.5L1806.9 505.3L1809.5 502.0L1812.8 503.0L1816.1 503.3L1819.4 503.1L1822.7 503.6L1824.7 505.7L1826.6 506.1L1828.6 508.2L1829.1 513.7L1829.6 517.1L1830.1 519.4L1830.6 523.8L1831.0 526.1L1831.5 528.4L1832.0 531.3L1832.5 534.0L1833.0 539.5L1833.3 543.6L1833.6 546.7L1833.9 548.3L1834.2 552.1L1834.5 556.2L1834.8 558.9L1835.1 561.3L1835.4 563.8L1835.7 567.3L1836.0 569.1L1836.3 572.3L1836.6 577.3L1836.9 581.5L1837.2 583.0L1837.5 585.7L1838.1 582.2L1838.7 579.4L1839.3 577.4L1839.9 572.9L1840.5 571.5L1841.0 565.4L1841.6 562.7L1842.2 560.2L1842.8 556.6L1843.4 555.0L1843.6 551.8L1843.9 549.1L1844.1 544.9L1844.4 539.7L1844.6 538.6L1844.8 535.4L1845.1 532.1L1845.3 528.3L1845.6 526.8L1845.8 524.4L1846.1 518.4L1846.3 517.4L1847.8 513.4L1849.3 511.0L1850.7 509.4L1852.2 506.7L1853.7 502.6L1856.8 498.1L1860.0 497.7L1863.1 495.0L1866.1 495.6L1869.2 497.2L1872.2 495.3L1875.3 495.0L1878.4 497.4L1881.4 497.3L1884.5 495.0L1887.6 495.2L1890.6 494.7L1893.7 494.1L1896.8 494.5L1899.8 497.0L1902.9 493.7L1905.9 494.2L1909.0 494.0L1912.1 493.5L1915.1 495.0L1918.2 495.7L1921.2 496.0L1924.3 495.2L1927.4 495.8L1930.4 492.8L1933.5 493.7L1936.5 496.1L1939.6 492.8L1942.6 493.4L1945.6 494.1L1948.7 493.3L1951.7 494.2L1954.7 492.3L1957.8 492.9L1960.8 495.5L1963.8 492.5L1966.8 495.1L1969.9 492.4L1972.9 495.3L1975.9 494.1L1979.0 493.9L1982.0 492.0L1984.0 494.6L1986.0 500.0L1988.0 500.8L1990.7 498.8L1993.3 499.1L1996.0 497.2L1998.7 492.2L2001.3 493.4L2004.0 489.7" fill="none" stroke="#005ac8" stroke-width="11.5" stroke-linejoin="round" stroke-linecap="round"/>
<ellipse cx="316" cy="545" rx="6" ry="18" fill="#005ac8"/>
<path d="M316.0 714.5L319.0 713.8L322.0 713.4L325.0 714.1L328.0 713.4L331.0 713.1L334.0 713.9L337.0 715.1L340.0 714.7L343.0 714.6L346.0 713.2L349.0 713.9L352.0 713.2L355.0 712.9L358.0 712.7L361.0 712.9L364.0 714.5L367.0 714.2L370.0 714.1L373.0 714.0L376.1 712.5L379.1 712.7L382.1 713.4L385.2 713.5L388.2 713.7L391.3 713.7L394.4 711.7L397.4 712.9L400.4 713.0L403.5 712.5L406.6 711.6L409.6 712.3L412.6 711.3L415.7 713.2L418.8 713.0L421.8 712.1L424.8 712.3L427.9 714.5L430.9 714.4L433.9 715.9L436.9 716.6L439.9 716.5L443.0 717.0L446.0 718.2L449.3 719.1L452.5 719.7L455.8 721.3L459.1 723.8L462.3 723.2L465.6 724.4L467.7 728.2L469.7 729.8L471.8 732.9L473.8 735.1L475.9 737.3L477.9 741.3L480.0 741.8L481.5 745.2L483.0 747.6L484.4 751.6L485.9 753.7L487.4 756.8L488.9 760.7L490.4 762.6L491.8 766.1L493.3 769.8L494.8 770.8L496.5 773.5L498.3 776.6L500.0 780.7L501.8 783.0L503.5 784.9L505.3 787.9L507.0 790.2L508.7 793.4L510.4 794.8L512.1 798.9L513.9 801.8L515.6 804.4L517.3 806.4L519.0 809.4L521.7 808.5L524.4 810.5L527.2 813.5L529.9 814.4L532.6 814.9L535.3 817.5L538.1 818.1L540.8 819.9L543.5 820.0L546.3 821.3L549.1 823.5L551.9 824.3L554.6 826.4L557.4 829.4L560.2 829.4L563.0 830.2L566.2 830.4L569.4 830.7L572.7 832.3L575.9 831.3L579.1 831.2L582.3 830.8L585.6 833.0L588.8 831.8L592.0 831.3L595.1 830.7L598.1 830.4L601.2 830.5L604.3 831.4L607.4 829.9L610.5 829.4L613.5 830.2L616.6 829.4L619.6 830.7L622.7 828.2L625.7 828.7L628.7 828.8L631.8 827.5L634.8 828.4L637.9 826.8L640.9 825.7L643.9 825.7L647.0 824.3L650.0 824.8L653.0 823.5L656.1 824.1L659.1 823.1L662.2 821.4L665.2 819.4L668.3 819.0L671.3 818.1L674.4 817.1L677.4 816.3L680.4 816.9L683.5 814.3L686.5 813.2L689.6 814.4L692.6 812.6L695.7 812.8L698.7 810.5L701.4 810.0L704.1 807.8L706.8 806.5L709.5 804.8L712.2 802.6L714.9 800.0L717.6 798.7L720.3 798.6L723.0 797.1L725.8 795.5L728.5 792.5L731.2 791.6L733.9 790.3L736.6 788.3L739.3 787.1L742.0 784.8L744.7 783.5L747.4 781.9L749.8 779.1L752.3 778.9L754.7 777.1L757.1 773.2L759.5 773.5L762.0 771.7L764.4 769.1L766.8 765.8L769.3 766.0L771.7 762.4L774.1 762.5L776.6 760.0L779.0 756.7L781.4 755.2L783.9 754.4L786.3 752.5L788.7 751.1L791.1 749.7L793.6 746.1L796.0 743.8L799.3 744.8L802.5 741.4L805.8 742.3L809.1 739.2L812.3 739.7L815.6 738.4L818.8 738.6L822.1 737.8L825.3 738.6L828.5 737.0L831.8 738.1L835.0 737.3L837.1 741.3L839.2 743.6L841.3 745.5L843.4 748.2L845.5 749.6L847.6 752.3L849.7 756.2L852.1 753.7L854.5 752.3L856.9 749.4L859.4 746.0L861.8 744.2L864.2 742.9L866.6 740.0L869.0 736.5L870.2 735.7L871.5 732.8L872.8 728.2L874.0 726.4L875.2 723.2L876.5 721.3L879.3 718.5L882.2 716.8L885.0 715.8L887.8 715.3L890.7 711.6L893.5 710.1L896.2 709.9L898.9 709.2L901.7 706.9L904.4 705.4L907.1 705.0L909.8 703.5L912.6 700.4L915.3 701.0L918.0 698.0L921.0 697.6L924.0 698.3L927.0 696.7L930.0 697.0L933.0 694.8L936.0 695.9L939.0 693.6L942.0 693.0L945.1 693.5L948.1 692.8L951.2 693.0L954.2 693.5L957.3 692.8L960.3 690.8L963.4 691.2L966.4 691.5L969.5 691.0L972.5 691.3L975.6 690.4L978.6 689.1L981.7 689.2L984.7 690.4L987.8 688.9L990.8 689.6L993.9 689.8L996.9 688.6L1000.0 688.4L1003.0 688.2L1006.1 687.4L1009.1 688.8L1012.1 687.6L1015.2 688.6L1018.2 687.1L1021.2 688.3L1024.2 688.1L1027.3 687.6L1030.3 687.1L1033.3 686.3L1036.4 687.7L1039.4 686.7L1042.4 687.3L1045.5 685.9L1048.5 685.7L1051.5 685.8L1054.6 687.3L1057.6 685.7L1060.6 687.4L1063.7 686.1L1066.7 686.5L1069.7 685.8L1072.8 686.4L1075.8 685.1L1078.8 685.7L1081.8 686.9L1084.9 685.0L1087.9 686.1L1090.9 685.2L1094.0 685.1L1097.0 684.4L1100.1 684.1L1103.1 686.2L1106.2 685.7L1109.2 685.4L1112.3 685.2L1115.4 685.4L1118.4 683.3L1121.5 684.1L1124.6 683.7L1127.6 683.6L1130.7 684.3L1133.8 683.7L1136.8 684.0L1139.9 681.7L1142.9 682.8L1146.0 682.7L1149.1 682.6L1152.1 682.1L1155.2 682.4L1158.2 681.0L1161.3 682.3L1164.4 680.8L1167.4 681.1L1170.5 681.6L1173.6 680.9L1176.6 679.8L1179.7 679.4L1182.8 679.4L1185.8 679.9L1188.9 680.6L1191.9 680.2L1195.0 678.8L1198.1 678.5L1201.2 679.1L1204.2 677.6L1207.3 677.6L1210.4 676.3L1213.5 676.4L1216.5 676.9L1219.6 677.0L1222.7 676.5L1225.8 675.6L1228.8 676.7L1231.9 675.6L1235.0 674.2L1238.1 673.7L1241.2 675.5L1244.2 675.2L1247.3 674.8L1250.4 673.7L1253.5 672.7L1256.5 671.9L1259.6 672.0L1262.7 671.6L1265.8 673.0L1268.8 672.6L1271.9 672.0L1275.0 670.2L1278.0 670.5L1281.0 670.7L1284.0 672.3L1287.0 670.5L1290.0 672.1L1293.0 671.9L1296.0 671.7L1299.0 672.7L1302.0 671.1L1305.0 671.9L1308.0 671.1L1311.0 671.0L1314.0 670.9L1317.0 671.7L1320.0 671.3L1323.0 671.2L1326.0 673.5L1329.0 671.9L1332.0 673.5L1335.0 673.1L1338.0 673.2L1341.0 673.1L1344.0 673.9L1347.0 673.8L1350.0 673.5L1353.0 673.6L1356.1 674.5L1359.1 675.0L1362.2 675.1L1365.2 675.5L1368.2 675.2L1371.3 677.3L1374.3 677.0L1377.4 676.5L1380.4 677.2L1383.5 679.4L1386.5 678.4L1389.2 680.1L1391.9 682.2L1394.7 684.0L1397.4 684.1L1400.1 685.6L1402.8 687.1L1405.6 687.5L1408.3 690.9L1411.0 690.2L1413.4 694.4L1415.8 694.4L1418.2 696.3L1420.6 699.9L1423.0 701.8L1426.4 700.9L1429.8 702.2L1433.2 702.5L1436.6 703.6L1440.0 702.8L1442.0 707.2L1444.0 710.5L1446.0 712.6L1448.0 715.9L1450.0 718.8L1452.0 720.3L1455.0 722.9L1458.0 724.4L1461.0 725.2L1464.0 725.6L1467.0 728.3L1468.8 726.6L1470.6 722.7L1472.4 721.0L1474.2 719.2L1476.1 716.1L1477.9 712.3L1479.7 711.3L1481.5 707.9L1483.4 706.4L1485.3 703.0L1487.2 699.2L1489.1 697.7L1491.0 694.1L1494.4 692.5L1497.8 692.7L1501.2 691.9L1504.6 690.9L1508.0 689.9L1511.0 689.6L1514.0 689.9L1517.0 689.9L1520.0 689.9L1523.0 691.2L1525.4 691.8L1527.8 693.3L1530.3 697.0L1532.7 698.7L1533.3 701.8L1533.9 705.0L1534.5 707.2L1535.1 710.1L1535.7 712.9L1536.3 717.6L1536.9 720.9L1537.5 723.5L1540.5 720.8L1543.6 721.6L1546.7 720.0L1549.7 718.0L1551.5 719.6L1553.2 724.5L1555.0 726.7L1556.7 729.6L1558.5 730.9L1560.2 735.4L1562.0 736.6L1564.7 736.3L1567.4 734.1L1570.1 733.2L1572.9 733.1L1575.6 731.4L1578.3 730.1L1581.0 727.5L1582.3 731.0L1583.6 734.7L1584.8 736.6L1586.1 740.7L1587.4 745.3L1588.7 748.0L1590.5 750.7L1592.3 751.7L1594.2 755.1L1596.0 757.7L1596.5 754.5L1597.1 750.8L1597.6 747.2L1598.2 743.8L1598.7 742.9L1599.2 740.0L1599.8 735.5L1600.3 733.6L1600.8 729.8L1601.4 727.3L1601.9 724.8L1602.5 720.6L1603.0 718.3L1604.5 713.4L1606.0 710.0L1608.9 706.5L1611.8 704.6L1614.6 702.3L1617.5 701.4L1618.6 702.3L1619.6 706.6L1620.7 707.8L1621.7 712.8L1622.8 713.7L1623.8 716.3L1624.9 719.4L1625.9 723.9L1627.0 726.1L1628.4 723.8L1629.9 720.1L1631.3 716.3L1632.7 714.1L1634.1 711.5L1635.6 710.0L1637.0 705.2L1638.4 708.5L1639.9 713.0L1641.3 714.4L1642.7 719.5L1644.1 721.0L1645.6 724.8L1647.0 728.1L1648.5 725.5L1650.0 720.4L1651.5 719.1L1653.0 714.4L1654.5 712.5L1657.2 712.8L1659.9 716.6L1662.6 717.1L1665.3 719.1L1668.0 720.7L1670.0 723.8L1672.0 726.3L1674.0 730.3L1676.0 731.8L1678.0 733.7L1680.0 737.6L1682.0 738.1L1684.0 740.6L1684.8 745.5L1685.6 748.5L1686.4 750.9L1687.2 754.7L1688.0 755.5L1688.8 760.6L1689.6 763.2L1691.2 760.4L1692.7 758.0L1694.3 753.5L1695.8 751.0L1697.4 748.1L1698.4 752.0L1699.3 755.3L1700.3 758.3L1701.3 761.0L1702.2 765.0L1703.2 768.3L1704.2 771.2L1705.1 772.6L1706.1 775.9L1707.1 779.2L1708.0 782.3L1709.0 786.2L1710.7 782.5L1712.4 780.8L1714.1 777.3L1715.7 774.6L1717.4 772.6L1719.1 770.4L1720.8 765.9L1723.1 763.9L1725.5 763.1L1727.8 759.0L1730.2 756.2L1732.5 754.3L1734.1 753.2L1735.7 750.4L1737.2 748.3L1738.8 744.6L1740.4 740.9L1742.0 738.9L1745.2 738.4L1748.3 736.0L1751.5 733.9L1754.6 732.9L1757.8 731.5L1761.2 732.0L1764.7 732.9L1768.1 732.9L1771.6 733.4L1775.0 735.9L1776.2 738.7L1777.5 740.9L1778.7 743.1L1780.0 746.4L1781.2 750.0L1782.4 753.7L1783.7 755.7L1784.9 759.8L1786.2 761.6L1787.4 763.7L1788.3 761.8L1789.3 758.7L1790.2 755.7L1791.2 753.0L1792.1 748.4L1793.0 746.3L1794.0 744.2L1794.9 739.6L1795.8 736.4L1796.8 733.7L1797.7 731.0L1798.7 728.3L1799.6 725.1L1801.6 723.4L1803.6 719.8L1805.6 717.8L1807.6 716.2L1809.6 713.4L1811.5 712.0L1813.5 709.5L1815.5 705.4L1817.5 703.2L1819.5 701.2L1821.5 698.8L1823.9 700.3L1826.4 703.5L1828.8 703.9L1831.3 706.5L1833.7 707.6L1834.5 712.7L1835.3 715.2L1836.2 719.4L1837.0 720.6L1837.8 725.3L1838.6 728.2L1839.8 723.7L1841.1 722.3L1842.3 719.1L1843.5 714.0L1844.8 712.8L1846.0 709.2L1848.8 706.8L1851.5 704.7L1854.3 702.1L1857.1 699.7L1859.9 698.8L1862.6 697.8L1865.4 694.3L1868.3 693.8L1871.1 692.3L1874.0 692.2L1876.9 691.7L1879.8 690.5L1882.6 687.9L1885.5 687.2L1888.4 685.1L1891.3 685.3L1894.1 684.9L1897.0 683.8L1900.0 682.7L1903.1 684.3L1906.2 684.2L1909.2 685.8L1912.2 687.7L1915.3 687.0L1918.4 689.1L1921.4 690.1L1924.4 689.8L1927.5 688.3L1930.5 690.0L1933.6 690.0L1936.6 690.2L1939.6 687.8L1942.7 687.8L1945.7 688.5L1948.6 687.9L1951.5 686.6L1954.3 684.7L1957.2 684.9L1960.1 683.9L1963.0 682.7L1965.9 681.3L1968.8 680.2L1971.6 679.5L1974.5 676.9L1977.4 676.6L1980.4 675.1L1983.3 674.2L1986.3 675.0L1989.2 673.1L1992.2 672.4L1995.1 671.4L1998.1 671.3L2001.0 669.4L2004.0 669.5" fill="none" stroke="#ff7f00" stroke-width="10.5" stroke-linejoin="round" stroke-linecap="round"/>
<ellipse cx="316" cy="714.5" rx="6" ry="18" fill="#ff7f00"/>
<path d="M316.0 841.0L319.0 841.2L322.0 841.3L325.0 841.3L328.0 841.6L331.0 841.0L334.0 841.3L337.0 839.0L340.0 839.9L343.0 841.0L346.0 840.1L349.0 840.6L352.0 838.6L355.0 839.4L358.0 838.7L361.0 839.3L364.0 839.2L367.0 837.8L370.0 838.1L373.0 838.2L376.1 839.8L379.1 839.5L382.1 838.1L385.2 839.7L388.2 838.2L391.3 839.5L394.4 838.4L397.4 838.2L400.4 840.3L403.5 838.8L406.6 838.9L409.6 840.8L412.6 840.7L415.7 839.3L418.8 841.0L421.8 840.1L425.0 841.0L428.3 840.4L431.5 842.7L434.8 842.6L438.0 843.8L441.3 844.1L444.5 843.3L447.8 843.9L451.0 844.0L453.8 845.7L456.6 847.2L459.4 849.6L462.1 852.0L464.9 852.3L467.7 855.7L470.5 856.6L472.2 859.2L474.0 863.0L475.7 864.8L477.4 867.0L479.2 870.0L480.9 873.1L482.6 874.2L484.4 879.0L486.1 879.3L487.9 883.7L489.6 886.5L491.3 887.1L493.1 891.6L494.8 893.2L496.5 896.3L498.3 897.5L500.0 900.2L501.7 903.2L503.4 907.6L505.2 908.4L506.9 912.4L508.6 915.4L510.4 918.0L512.1 919.2L513.8 921.8L515.5 924.8L517.3 928.1L519.0 929.1L521.0 932.8L523.1 935.2L525.1 937.6L527.2 937.9L529.2 942.3L531.2 942.5L533.3 945.3L535.3 948.2L537.4 951.2L539.4 952.0L541.5 955.7L543.5 957.0L546.0 958.3L548.4 960.1L550.9 961.6L553.3 963.1L555.8 965.1L558.2 968.2L560.6 970.8L563.1 970.6L565.5 972.1L568.0 976.2L571.0 976.6L574.0 977.8L577.0 979.0L580.0 981.4L583.0 983.5L586.0 984.1L589.0 985.6L592.0 986.2L595.1 988.4L598.1 986.5L601.2 987.7L604.3 988.7L607.4 987.2L610.5 988.8L613.5 989.4L616.6 988.8L619.6 988.2L622.7 985.6L625.7 985.5L628.7 983.8L631.8 984.6L634.8 982.3L637.9 981.7L640.9 982.1L643.9 980.8L647.0 980.1L650.0 977.9L653.0 976.5L656.0 975.7L659.0 973.7L662.0 971.8L665.0 970.6L668.0 968.6L671.0 967.7L674.0 967.8L676.1 965.6L678.3 962.7L680.4 960.3L682.5 957.8L684.7 955.0L686.8 953.4L688.9 952.5L691.0 950.6L693.2 947.2L695.3 946.2L697.4 944.0L699.6 941.7L701.7 939.5L703.8 937.6L706.0 934.6L708.1 933.3L710.2 930.2L712.3 928.5L714.5 927.1L716.6 924.8L718.7 921.7L720.9 921.2L723.0 918.4L725.3 916.1L727.6 912.6L729.9 911.7L732.1 908.9L734.4 907.7L736.7 905.1L739.0 903.8L741.3 901.3L743.6 899.5L745.9 896.3L748.2 894.8L750.5 892.9L752.7 891.0L755.0 887.7L757.3 886.8L759.6 884.7L762.4 882.7L765.1 881.9L767.9 880.3L770.6 877.7L773.4 876.2L776.2 873.8L778.9 873.8L781.7 872.5L784.4 869.9L787.2 868.9L790.0 867.4L792.7 865.9L795.5 863.0L798.2 862.9L801.0 860.9L804.2 862.3L807.5 862.9L810.8 864.6L814.0 866.2L817.2 867.1L820.5 868.5L823.2 868.4L825.8 870.3L828.5 872.5L831.1 874.5L833.8 875.1L836.4 877.7L839.1 879.1L841.7 879.3L844.4 881.8L847.0 882.8L849.7 883.9L852.1 881.8L854.5 880.0L856.9 877.4L859.4 875.2L861.8 872.5L864.2 871.3L866.6 868.8L869.0 867.1L871.5 865.1L873.9 862.3L876.4 861.9L878.8 857.8L881.2 856.8L883.7 854.6L886.1 852.9L888.6 850.3L891.0 850.0L893.5 847.0L896.5 845.6L899.6 846.3L902.6 844.5L905.6 845.0L908.7 843.9L911.7 843.8L914.7 844.1L917.8 843.2L920.8 841.6L923.8 841.9L926.8 840.9L929.9 839.6L932.9 838.5L935.9 839.0L939.0 838.3L942.0 838.6L945.1 838.2L948.1 837.0L951.2 836.0L954.2 836.9L957.3 834.3L960.3 834.2L963.4 834.9L966.4 834.6L969.5 833.1L972.5 833.9L975.6 834.1L978.6 832.5L981.7 832.2L984.7 831.3L987.8 831.1L990.8 832.3L993.9 830.5L996.9 831.5L1000.0 831.0L1003.0 830.2L1006.1 829.3L1009.1 830.9L1012.1 829.7L1015.2 829.5L1018.2 829.2L1021.2 830.7L1024.2 829.4L1027.3 828.9L1030.3 829.3L1033.3 828.3L1036.4 829.5L1039.4 829.0L1042.4 828.5L1045.5 829.6L1048.5 829.7L1051.5 827.7L1054.6 828.8L1057.6 828.2L1060.6 829.7L1063.7 829.2L1066.7 827.9L1069.7 827.9L1072.8 827.5L1075.8 829.5L1078.8 827.7L1081.8 828.4L1084.9 828.0L1087.9 828.4L1090.9 828.2L1094.0 828.5L1097.0 826.9L1100.1 828.2L1103.1 826.9L1106.2 827.3L1109.3 826.6L1112.4 826.3L1115.4 826.6L1118.5 826.3L1121.6 825.8L1124.7 826.5L1127.7 825.9L1130.8 824.4L1133.9 824.7L1137.0 825.0L1140.0 825.9L1143.1 825.6L1146.2 824.6L1149.3 823.1L1152.3 824.7L1155.4 823.7L1158.5 823.8L1161.6 823.9L1164.6 823.5L1167.7 823.0L1170.8 823.8L1173.9 822.3L1176.9 822.1L1180.0 823.0L1183.1 821.2L1186.2 821.3L1189.2 822.3L1192.3 820.3L1195.4 821.9L1198.5 821.4L1201.5 820.5L1204.6 820.0L1207.6 821.1L1210.6 821.4L1213.7 819.5L1216.7 820.2L1219.7 820.3L1222.7 820.2L1225.7 819.7L1228.8 819.2L1231.8 820.2L1234.8 820.7L1237.8 818.8L1240.8 819.2L1243.8 820.5L1246.9 820.4L1249.9 820.0L1252.9 818.4L1255.9 820.1L1258.9 820.6L1262.0 820.6L1265.0 819.8L1268.0 818.2L1271.0 820.2L1274.1 818.8L1277.1 819.8L1280.1 820.6L1283.2 820.1L1286.2 818.8L1289.3 819.2L1292.3 820.8L1295.3 819.0L1298.4 820.2L1301.4 819.8L1304.4 819.2L1307.5 820.4L1310.5 819.1L1313.6 819.3L1316.6 820.0L1319.6 819.3L1322.7 819.4L1325.7 820.7L1328.7 821.1L1331.8 821.5L1334.8 819.8L1337.9 820.6L1340.9 820.4L1343.9 821.1L1347.0 820.9L1350.0 822.1L1353.0 821.1L1356.1 820.8L1359.1 822.7L1362.2 821.9L1365.2 823.4L1368.3 823.6L1371.3 825.0L1374.3 824.5L1377.4 825.1L1380.4 824.7L1383.5 825.8L1386.5 825.5L1389.6 827.1L1392.6 827.0L1395.7 826.5L1398.7 827.2L1401.4 829.3L1404.2 832.0L1406.9 832.5L1409.7 835.6L1412.4 837.3L1415.1 837.8L1417.9 841.0L1420.6 841.4L1422.7 843.9L1424.7 847.5L1426.8 849.1L1428.8 853.0L1430.9 854.5L1432.9 856.5L1435.0 860.1L1437.5 860.5L1440.0 864.4L1442.5 865.0L1445.0 867.5L1447.5 871.7L1450.0 873.2L1452.4 869.9L1454.8 867.4L1457.2 867.2L1459.7 864.3L1462.1 862.4L1464.5 858.5L1466.5 856.9L1468.5 853.4L1470.5 850.3L1472.6 847.7L1474.6 845.5L1476.6 842.0L1479.4 840.7L1482.1 838.8L1484.9 839.0L1487.7 837.2L1490.5 836.2L1493.2 833.9L1496.0 833.5L1499.1 832.2L1502.3 831.9L1505.4 831.3L1508.6 831.2L1511.7 829.8L1514.9 828.6L1518.0 827.9L1521.0 830.4L1524.0 832.1L1527.0 836.3L1530.0 837.5L1531.5 840.8L1533.0 841.7L1534.5 845.5L1536.0 849.2L1537.5 851.3L1541.1 849.9L1544.8 849.1L1548.4 847.3L1552.0 846.5L1554.8 845.0L1557.7 844.1L1560.5 842.7L1563.3 842.5L1566.2 839.3L1569.0 838.1L1571.5 840.3L1573.9 842.1L1576.4 844.5L1578.8 846.5L1581.3 849.2L1583.7 850.3L1586.2 854.5L1588.6 855.3L1591.1 858.8L1593.5 860.3L1596.0 862.4L1597.9 859.5L1599.9 858.1L1601.8 853.7L1603.8 852.6L1605.7 849.2L1608.7 849.5L1611.8 849.0L1614.8 847.1L1617.8 846.5L1620.9 845.5L1623.9 845.4L1627.0 844.4L1630.0 844.6L1632.9 844.6L1635.9 841.8L1638.8 840.4L1641.8 839.4L1644.7 837.7L1647.7 837.4L1650.6 836.1L1653.6 833.4L1656.5 832.3L1659.4 834.3L1662.3 835.9L1665.2 836.2L1668.2 836.6L1671.1 838.9L1674.0 837.5L1674.8 840.8L1675.6 845.6L1676.3 847.8L1677.1 850.1L1677.9 854.4L1678.7 858.6L1679.5 860.6L1680.2 863.3L1681.0 865.8L1681.8 868.9L1685.2 870.4L1688.7 868.9L1692.1 869.5L1695.5 866.9L1696.2 870.4L1696.9 873.0L1697.7 876.9L1698.4 879.1L1699.1 882.6L1699.8 886.0L1700.5 888.8L1701.2 891.2L1702.0 894.2L1702.7 899.5L1703.4 900.6L1704.1 904.5L1704.8 907.3L1705.6 910.6L1706.3 912.6L1707.0 916.2L1709.0 913.1L1710.9 911.5L1712.9 909.8L1714.9 906.4L1716.8 904.5L1718.8 900.3L1720.8 902.4L1722.7 906.1L1724.7 908.5L1726.6 911.2L1728.6 913.3L1730.5 916.4L1732.5 919.1L1733.8 916.8L1735.1 912.5L1736.3 910.0L1737.6 908.1L1738.9 903.9L1740.2 900.8L1741.4 898.5L1742.7 895.1L1744.0 894.0L1745.1 891.0L1746.2 886.8L1747.3 883.3L1748.4 880.2L1749.6 877.5L1750.7 874.1L1751.8 871.9L1752.9 869.2L1754.0 865.4L1755.9 862.5L1757.9 861.6L1759.8 857.6L1761.8 855.5L1763.7 853.3L1765.6 851.1L1767.6 848.0L1769.5 846.3L1772.5 846.8L1775.5 848.6L1778.5 848.9L1781.4 850.5L1784.4 850.6L1787.4 851.6L1789.8 849.1L1792.3 846.8L1794.7 845.6L1797.1 843.2L1799.6 841.8L1802.0 839.2L1805.0 839.3L1808.1 838.5L1811.2 839.9L1814.2 839.1L1817.2 838.6L1820.3 838.6L1823.4 839.0L1826.4 839.4L1828.4 843.1L1830.5 844.8L1832.5 846.9L1834.5 851.2L1836.6 853.3L1838.6 854.7L1841.0 852.9L1843.4 851.3L1845.9 850.0L1848.3 849.4L1851.3 850.3L1854.4 850.2L1857.4 850.0L1860.5 851.2L1863.5 851.7L1866.5 852.3L1869.6 852.3L1872.6 854.4L1875.7 855.7L1878.7 856.1L1881.8 855.3L1884.8 857.1L1887.8 857.1L1890.9 859.3L1894.0 859.6L1897.0 861.7L1900.0 862.3L1903.1 861.6L1906.2 863.0L1909.2 865.3L1912.2 865.2L1915.3 866.0L1918.4 866.9L1921.4 868.6L1924.4 868.4L1927.5 866.8L1930.5 867.3L1933.6 865.7L1936.6 863.9L1939.6 865.0L1942.7 863.4L1945.7 861.9L1948.6 863.3L1951.6 860.2L1954.5 860.7L1957.4 859.6L1960.3 859.7L1963.3 857.7L1966.2 856.4L1969.1 855.7L1972.1 854.7L1975.0 854.7L1977.6 852.7L1980.3 852.1L1982.9 849.3L1985.5 848.0L1988.2 846.2L1990.8 846.4L1993.5 844.5L1996.1 843.0L1998.7 840.9L2001.4 838.8L2004.0 837.5" fill="none" stroke="#00bfbf" stroke-width="10.5" stroke-linejoin="round" stroke-linecap="round"/>
<ellipse cx="316" cy="841" rx="6" ry="18" fill="#00bfbf"/>
<path d="M316.0 1031.0L319.0 1031.6L322.0 1031.5L325.0 1030.6L328.0 1029.9L331.0 1029.2L334.0 1030.7L337.0 1030.1L340.0 1030.7L343.0 1029.6L346.0 1030.4L349.0 1029.1L352.0 1030.3L355.0 1030.0L358.0 1029.1L361.0 1029.3L364.0 1029.5L367.0 1028.2L370.0 1028.9L373.0 1029.4L376.1 1028.0L379.1 1029.1L382.1 1028.6L385.2 1028.9L388.2 1027.5L391.3 1026.7L394.4 1028.2L397.4 1028.1L400.4 1027.0L403.5 1026.0L406.6 1026.1L409.6 1027.0L412.6 1026.0L415.7 1027.4L418.8 1026.4L421.8 1025.3L424.9 1026.9L428.0 1026.8L431.1 1028.7L434.2 1029.2L437.3 1028.8L440.5 1029.6L443.6 1030.3L446.7 1031.1L449.8 1032.1L452.9 1030.3L456.0 1031.7L458.4 1034.3L460.8 1035.7L463.2 1038.5L465.7 1039.3L468.1 1043.3L470.5 1044.6L472.4 1046.2L474.2 1050.1L476.1 1051.9L478.0 1054.3L479.8 1057.6L481.7 1059.4L483.6 1062.2L485.5 1066.4L487.3 1068.6L489.2 1069.6L491.1 1074.0L492.9 1074.8L494.8 1078.2L496.4 1082.2L498.0 1084.1L499.6 1085.9L501.3 1088.7L502.9 1091.3L504.5 1093.3L506.1 1098.0L507.7 1098.3L509.3 1101.8L510.9 1105.2L512.5 1107.0L514.2 1111.0L515.8 1111.8L517.4 1116.2L519.0 1118.5L521.2 1120.2L523.5 1123.0L525.7 1124.1L527.9 1127.3L530.1 1129.4L532.4 1130.9L534.6 1133.1L536.8 1135.8L539.0 1137.3L541.3 1138.8L543.5 1142.6L546.2 1142.8L548.9 1144.6L551.7 1146.7L554.4 1146.5L557.1 1147.5L559.8 1149.1L562.6 1151.5L565.3 1152.3L568.0 1153.4L571.0 1154.5L574.0 1156.3L577.0 1155.3L580.0 1156.3L583.0 1158.0L586.0 1158.0L589.0 1157.8L592.0 1158.9L595.1 1159.0L598.1 1158.3L601.2 1158.9L604.3 1158.8L607.4 1160.0L610.5 1159.0L613.5 1159.8L616.6 1160.6L619.6 1159.8L622.7 1157.8L625.7 1157.7L628.7 1156.3L631.8 1155.8L634.8 1155.4L637.9 1155.4L640.9 1155.1L643.9 1152.9L647.0 1151.5L650.0 1151.9L652.7 1149.5L655.3 1148.1L658.0 1148.5L660.7 1145.5L663.3 1145.6L666.0 1143.3L668.7 1143.3L671.3 1141.7L674.0 1138.4L676.5 1136.8L678.9 1136.7L681.4 1133.9L683.8 1131.5L686.2 1130.5L688.7 1128.6L691.1 1125.9L693.6 1123.9L696.0 1121.0L698.5 1119.7L701.0 1117.3L703.4 1116.5L705.9 1114.5L708.3 1111.4L710.8 1110.6L713.2 1107.4L715.6 1105.5L718.1 1104.8L720.5 1102.5L723.0 1101.6L725.3 1098.8L727.6 1096.8L729.9 1093.3L732.1 1092.9L734.4 1088.9L736.7 1088.1L739.0 1086.7L741.3 1084.5L743.6 1082.4L745.9 1079.2L748.2 1077.6L750.5 1075.7L752.7 1072.0L755.0 1071.8L757.3 1069.6L759.6 1066.4L762.4 1065.8L765.1 1063.6L767.9 1061.8L770.6 1061.5L773.4 1058.6L776.2 1058.9L778.9 1058.0L781.7 1054.9L784.4 1055.1L787.2 1051.7L790.0 1052.2L792.7 1049.4L795.5 1049.7L798.2 1047.0L801.0 1046.8L804.2 1045.7L807.5 1046.8L810.8 1049.6L814.0 1050.1L817.2 1050.9L820.5 1050.7L823.5 1052.2L826.5 1053.9L829.4 1054.4L832.4 1057.9L835.4 1058.5L838.4 1060.2L841.3 1060.8L844.3 1061.2L847.3 1061.8L849.7 1061.3L852.1 1057.8L854.5 1056.8L856.9 1054.6L859.4 1052.6L861.8 1049.6L864.2 1047.5L866.6 1046.6L869.0 1043.4L871.5 1042.6L873.9 1039.8L876.4 1038.1L878.8 1035.9L881.2 1034.9L883.7 1032.5L886.1 1030.2L888.6 1028.2L891.0 1027.1L893.5 1026.0L896.5 1024.3L899.6 1023.1L902.6 1023.0L905.6 1022.3L908.7 1022.5L911.7 1022.5L914.7 1021.4L917.8 1020.0L920.8 1019.8L923.8 1019.4L926.8 1019.0L929.9 1018.4L932.9 1019.3L935.9 1017.7L939.0 1017.4L942.0 1017.0L945.1 1016.5L948.1 1016.4L951.2 1015.0L954.2 1015.3L957.3 1015.7L960.3 1013.3L963.4 1014.0L966.4 1013.1L969.5 1011.9L972.5 1011.4L975.6 1012.8L978.6 1010.8L981.7 1011.9L984.7 1010.0L987.8 1010.3L990.8 1009.1L993.9 1009.9L996.9 1010.1L1000.0 1008.3L1003.0 1009.0L1006.1 1009.6L1009.1 1007.9L1012.1 1008.2L1015.2 1008.6L1018.2 1008.7L1021.2 1006.9L1024.2 1007.9L1027.3 1006.4L1030.3 1006.2L1033.3 1008.1L1036.4 1005.7L1039.4 1007.6L1042.4 1007.0L1045.5 1006.6L1048.5 1006.6L1051.5 1006.2L1054.6 1005.1L1057.6 1005.3L1060.6 1004.5L1063.7 1005.9L1066.7 1005.5L1069.7 1005.4L1072.8 1003.8L1075.8 1004.5L1078.8 1003.5L1081.8 1004.6L1084.9 1004.3L1087.9 1004.8L1090.9 1003.9L1094.0 1003.6L1097.0 1003.7L1100.0 1001.8L1103.0 1002.8L1106.1 1001.2L1109.1 1001.8L1112.1 1001.0L1115.1 1002.8L1118.1 1000.4L1121.2 1002.3L1124.2 1002.2L1127.2 1000.7L1130.2 1001.5L1133.2 999.4L1136.3 999.4L1139.3 998.9L1142.3 998.8L1145.3 998.4L1148.3 1000.2L1151.4 998.2L1154.4 999.2L1157.4 998.2L1160.4 997.7L1163.5 998.1L1166.5 997.4L1169.5 999.1L1172.5 997.4L1175.5 997.7L1178.6 997.4L1181.6 997.4L1184.6 996.8L1187.6 996.1L1190.6 995.6L1193.7 997.2L1196.7 995.3L1199.7 995.7L1202.8 996.3L1205.9 995.5L1209.0 996.2L1212.1 995.7L1215.2 994.7L1218.3 993.6L1221.4 994.5L1224.5 994.0L1227.6 994.7L1230.7 993.7L1233.8 993.9L1237.0 993.9L1240.1 992.9L1243.2 993.6L1246.3 993.5L1249.4 991.5L1252.5 993.1L1255.6 992.8L1258.7 992.5L1261.8 991.0L1264.9 990.6L1268.0 990.1L1271.0 990.8L1274.1 992.0L1277.1 990.9L1280.1 990.2L1283.2 991.0L1286.2 990.5L1289.3 991.9L1292.3 992.4L1295.3 992.8L1298.4 990.9L1301.4 991.7L1304.4 991.2L1307.5 993.1L1310.5 993.1L1313.6 992.4L1316.6 993.5L1319.6 992.6L1322.7 993.3L1325.7 992.7L1328.7 992.5L1331.8 994.1L1334.8 993.8L1337.9 993.3L1340.9 994.0L1343.9 993.6L1347.0 994.0L1350.0 992.4L1353.0 992.8L1356.1 993.1L1359.1 994.6L1362.2 995.2L1365.2 994.1L1368.3 995.2L1371.3 994.6L1374.3 996.3L1377.4 996.8L1380.4 995.5L1383.5 997.9L1386.5 997.5L1389.6 996.5L1392.6 997.3L1395.7 997.2L1398.7 998.8L1401.1 1001.1L1403.5 1001.2L1405.9 1003.1L1408.3 1006.0L1410.8 1008.4L1413.2 1009.9L1415.6 1011.1L1418.0 1012.1L1419.9 1015.7L1421.8 1017.7L1423.7 1021.0L1425.6 1022.9L1427.4 1025.7L1429.3 1028.7L1431.2 1030.3L1433.1 1033.4L1435.0 1034.3L1437.5 1035.4L1440.0 1039.4L1442.5 1039.2L1445.0 1043.3L1447.5 1043.9L1450.0 1044.7L1452.1 1043.0L1454.1 1041.8L1456.2 1038.8L1458.3 1037.1L1460.4 1033.6L1462.4 1033.1L1464.5 1029.7L1466.5 1028.3L1468.5 1024.3L1470.5 1023.1L1472.6 1020.1L1474.6 1017.5L1476.6 1014.1L1479.8 1014.2L1483.1 1013.7L1486.3 1010.7L1489.5 1010.3L1492.8 1008.0L1496.0 1009.2L1499.1 1008.7L1502.1 1007.5L1505.2 1006.6L1508.2 1005.2L1511.3 1004.8L1514.4 1005.8L1517.4 1005.6L1520.5 1005.6L1522.6 1007.7L1524.6 1009.1L1526.7 1011.1L1528.8 1014.2L1530.9 1016.2L1532.9 1019.1L1535.0 1022.3L1538.1 1021.6L1541.3 1023.2L1544.4 1023.0L1547.6 1021.7L1550.7 1023.7L1553.9 1023.8L1557.0 1024.1L1559.9 1021.1L1562.8 1021.8L1565.8 1019.4L1568.7 1018.0L1571.6 1015.7L1574.0 1017.4L1576.4 1019.3L1578.9 1021.8L1581.3 1024.0L1583.7 1025.6L1586.2 1027.4L1588.6 1031.0L1591.0 1032.9L1594.0 1033.1L1597.0 1031.2L1600.0 1032.1L1602.8 1029.9L1605.6 1026.7L1608.4 1026.7L1611.1 1023.5L1613.9 1021.1L1616.7 1019.2L1619.5 1019.0L1622.8 1017.3L1626.0 1017.7L1629.2 1018.1L1632.5 1017.7L1635.8 1018.4L1639.0 1017.0L1641.9 1016.5L1644.8 1015.5L1647.8 1014.3L1650.7 1012.9L1653.6 1010.8L1656.5 1010.3L1659.4 1012.1L1662.3 1012.0L1665.2 1013.3L1668.2 1014.8L1671.1 1014.4L1674.0 1015.4L1674.8 1020.0L1675.6 1021.4L1676.5 1024.6L1677.3 1027.4L1678.1 1031.8L1678.9 1033.6L1679.7 1037.4L1680.5 1038.5L1681.3 1041.7L1682.2 1045.5L1683.0 1047.6L1683.8 1051.4L1686.7 1050.0L1689.7 1048.0L1692.6 1047.1L1695.5 1046.9L1696.4 1050.1L1697.3 1052.2L1698.2 1055.4L1699.1 1057.8L1700.0 1061.4L1700.9 1064.5L1701.8 1067.7L1702.7 1071.2L1703.6 1074.8L1704.5 1077.5L1705.4 1080.6L1706.3 1082.5L1707.2 1086.0L1708.1 1089.5L1709.0 1092.9L1711.0 1089.0L1712.9 1086.0L1714.9 1083.7L1716.8 1082.4L1718.8 1080.9L1720.8 1081.5L1722.7 1085.3L1724.7 1087.2L1726.6 1090.0L1728.6 1092.4L1730.5 1092.8L1732.5 1096.7L1733.9 1092.2L1735.4 1089.2L1736.8 1086.9L1738.2 1084.2L1739.7 1080.3L1741.1 1077.8L1742.6 1074.7L1744.0 1071.6L1745.3 1068.5L1746.6 1065.2L1747.9 1062.7L1749.2 1059.9L1750.6 1057.0L1751.9 1054.6L1753.2 1051.4L1754.5 1048.0L1755.8 1044.6L1757.7 1042.8L1759.6 1039.3L1761.5 1036.8L1763.4 1034.1L1765.2 1033.0L1767.1 1029.2L1769.0 1026.9L1770.9 1024.7L1772.8 1022.8L1776.5 1023.6L1780.1 1024.0L1783.8 1024.6L1787.4 1024.3L1789.4 1023.3L1791.5 1020.2L1793.5 1016.8L1795.5 1014.1L1797.6 1011.9L1799.6 1008.1L1802.8 1009.2L1806.1 1009.7L1809.3 1008.3L1812.6 1008.6L1815.8 1007.9L1819.1 1009.3L1822.3 1007.9L1825.6 1007.8L1828.8 1008.5L1831.2 1010.1L1833.7 1013.9L1836.1 1015.1L1838.6 1018.0L1841.7 1016.8L1844.9 1016.9L1848.0 1016.1L1851.1 1014.7L1854.2 1016.0L1857.4 1013.7L1860.5 1014.2L1863.5 1015.3L1866.6 1015.8L1869.6 1016.3L1872.7 1017.6L1875.7 1019.8L1878.8 1018.3L1881.8 1021.3L1884.8 1021.6L1887.9 1022.2L1890.9 1023.5L1894.0 1024.4L1897.0 1025.8L1900.0 1026.8L1903.0 1026.4L1905.9 1026.6L1908.9 1027.3L1911.9 1029.3L1914.9 1029.0L1917.8 1028.6L1920.8 1030.5L1923.8 1030.1L1926.9 1029.8L1930.1 1029.6L1933.2 1028.7L1936.3 1027.7L1939.4 1027.5L1942.6 1026.1L1945.7 1026.1L1948.6 1024.9L1951.6 1022.7L1954.5 1023.1L1957.4 1021.3L1960.3 1021.8L1963.3 1020.2L1966.2 1018.9L1969.1 1017.4L1972.1 1018.2L1975.0 1016.1L1977.6 1013.6L1980.3 1013.7L1982.9 1010.0L1985.5 1008.3L1988.2 1006.5L1990.8 1006.2L1993.5 1004.2L1996.1 1002.3L1998.7 1001.6L2001.4 998.7L2004.0 997.0" fill="none" stroke="#6a00c8" stroke-width="10.5" stroke-linejoin="round" stroke-linecap="round"/>
<ellipse cx="316" cy="1031" rx="6" ry="18" fill="#6a00c8"/>
<text x="1179.65" y="195" font-size="56" fill="#00bf8c" font-weight="bold" text-anchor="middle" textLength="243.89999999999986" lengthAdjust="spacingAndGlyphs" >Cellulose</text>
<text x="1108.85" y="330" font-size="56" fill="#595959" font-weight="bold" text-anchor="middle" textLength="107.70000000000005" lengthAdjust="spacingAndGlyphs" >CNF</text>
<text x="1116.25" y="492" font-size="56" fill="#005ac8" font-weight="bold" text-anchor="middle" textLength="107.5" lengthAdjust="spacingAndGlyphs" >PEG</text>
<text x="1116.75" y="637" font-size="56" fill="#ff7f00" font-weight="bold" text-anchor="middle" textLength="108.5" lengthAdjust="spacingAndGlyphs" >rGO</text>
<text x="1183.2" y="796" font-size="56" fill="#00bfbf" font-weight="bold" text-anchor="middle" textLength="246.4000000000001" lengthAdjust="spacingAndGlyphs" >CNF/PEG</text>
<text x="1182.5" y="960.5" font-size="56" fill="#6a00c8" font-weight="bold" text-anchor="middle" textLength="245" lengthAdjust="spacingAndGlyphs" >CNF/rGO</text>
<text x="183.5" y="2036" font-size="150" fill="#000" font-weight="bold" text-anchor="middle" textLength="186" lengthAdjust="spacingAndGlyphs" >(b)</text>
<line x1="302" y1="1932" x2="1995" y2="1932" stroke="#333" stroke-width="4" stroke-linecap="butt"/>
<line x1="324" y1="1930" x2="324" y2="3121" stroke="#333" stroke-width="4" stroke-linecap="butt"/>
<line x1="1993" y1="1930" x2="1993" y2="3106" stroke="#333" stroke-width="4" stroke-linecap="butt"/>
<line x1="302" y1="3104" x2="1995" y2="3104" stroke="#333" stroke-width="4" stroke-linecap="butt"/>
<line x1="302" y1="2225.5" x2="324" y2="2225.5" stroke="#333" stroke-width="4" stroke-linecap="butt"/>
<line x1="302" y1="2519" x2="324" y2="2519" stroke="#333" stroke-width="4" stroke-linecap="butt"/>
<line x1="302" y1="2812.5" x2="324" y2="2812.5" stroke="#333" stroke-width="4" stroke-linecap="butt"/>
<line x1="601.0" y1="3104" x2="601.0" y2="3121" stroke="#333" stroke-width="4" stroke-linecap="butt"/>
<line x1="879.0" y1="3104" x2="879.0" y2="3121" stroke="#333" stroke-width="4" stroke-linecap="butt"/>
<line x1="1157.0" y1="3104" x2="1157.0" y2="3121" stroke="#333" stroke-width="4" stroke-linecap="butt"/>
<line x1="1435.0" y1="3104" x2="1435.0" y2="3121" stroke="#333" stroke-width="4" stroke-linecap="butt"/>
<line x1="1713.0" y1="3104" x2="1713.0" y2="3121" stroke="#333" stroke-width="4" stroke-linecap="butt"/>
<line x1="1991.0" y1="3104" x2="1991.0" y2="3121" stroke="#333" stroke-width="4" stroke-linecap="butt"/>
<text x="322" y="3229" font-size="66" fill="#000" font-weight="normal" text-anchor="middle" textLength="41" lengthAdjust="spacingAndGlyphs" >5</text>
<text x="601" y="3229" font-size="66" fill="#000" font-weight="normal" text-anchor="middle" textLength="79" lengthAdjust="spacingAndGlyphs" >10</text>
<text x="880" y="3229" font-size="66" fill="#000" font-weight="normal" text-anchor="middle" textLength="79" lengthAdjust="spacingAndGlyphs" >15</text>
<text x="1157" y="3229" font-size="66" fill="#000" font-weight="normal" text-anchor="middle" textLength="79" lengthAdjust="spacingAndGlyphs" >20</text>
<text x="1434" y="3229" font-size="66" fill="#000" font-weight="normal" text-anchor="middle" textLength="79" lengthAdjust="spacingAndGlyphs" >25</text>
<text x="1712.6" y="3229" font-size="66" fill="#000" font-weight="normal" text-anchor="middle" textLength="79" lengthAdjust="spacingAndGlyphs" >30</text>
<text x="1991" y="3229" font-size="66" fill="#000" font-weight="normal" text-anchor="middle" textLength="79" lengthAdjust="spacingAndGlyphs" >35</text>
<text transform="translate(218.7 2750) rotate(-90)" font-size="75" fill="#000" font-weight="normal" text-anchor="start" textLength="469" lengthAdjust="spacingAndGlyphs" >Intensity (a.u)</text>
<text x="957" y="3368" font-size="75" fill="#000" font-weight="normal" text-anchor="start" textLength="396" lengthAdjust="spacingAndGlyphs" >2θ (degree)</text>
<line x1="1269.6" y1="1998" x2="1322.8" y2="1950" stroke="#9c9cf0" stroke-width="5" stroke-linecap="butt"/>
<line x1="1440.8" y1="2771" x2="1440.8" y2="2802" stroke="#caa0f0" stroke-width="5" stroke-linecap="butt"/>
<line x1="1296.5" y1="2839" x2="1296.5" y2="2889" stroke="#a6e9da" stroke-width="5" stroke-linecap="butt"/>
<line x1="1063.6" y1="3094" x2="1063.6" y2="3160" stroke="#ffc894" stroke-width="5" stroke-linecap="butt"/>
<text transform="translate(1119.7 2552.0) rotate(-90)" font-size="46" fill="#5858e0" font-weight="normal" text-anchor="middle" stroke="#fff" stroke-width="1.2">19.0</text>
<text transform="translate(1224.5 2531.35) rotate(-90)" font-size="46" fill="#5858e0" font-weight="normal" text-anchor="middle" stroke="#fff" stroke-width="1.2">21.3</text>
<text transform="translate(1261.1 1991.5) rotate(-90)" font-size="46" fill="#5858e0" font-weight="normal" text-anchor="middle" stroke="#fff" stroke-width="1.2">23.2</text>
<text transform="translate(1457.3 2857.0) rotate(-90)" font-size="46" fill="#a45ae0" font-weight="normal" text-anchor="middle" stroke="#fff" stroke-width="1.2">25.1</text>
<text transform="translate(1313.0 2992.8) rotate(-90)" font-size="46" fill="#8c8c8c" font-weight="normal" text-anchor="middle" stroke="#fff" stroke-width="1.2">22.7</text>
<text transform="translate(1084.5 3211.35) rotate(-90)" font-size="46" fill="#ffa24c" font-weight="normal" text-anchor="middle" stroke="#fff" stroke-width="1.2">18.7</text>
<path d="M320.0 3092.6L325.1 3092.6L330.3 3093.1L335.4 3094.7L340.5 3093.0L345.7 3093.4L350.8 3093.8L355.9 3092.4L361.1 3093.8L366.2 3094.4L371.3 3095.2L376.5 3092.6L381.6 3093.6L386.7 3092.9L391.9 3095.9L397.0 3095.6L402.1 3093.1L407.3 3097.0L412.4 3097.1L417.5 3096.0L422.7 3096.0L427.8 3094.3L432.9 3093.9L438.1 3096.1L443.2 3094.4L448.3 3095.0L453.5 3095.4L458.6 3094.7L463.7 3096.6L468.9 3096.6L474.0 3098.4L479.0 3097.1L484.1 3097.6L489.1 3097.1L494.1 3097.8L499.1 3097.0L504.2 3096.3L509.2 3099.3L514.2 3099.3L519.2 3098.7L524.3 3098.2L529.3 3096.7L534.3 3096.4L539.4 3096.6L544.4 3095.8L549.4 3098.6L554.4 3097.2L559.5 3099.0L564.5 3097.2L569.5 3099.6L574.5 3099.1L579.6 3095.8L584.6 3096.7L589.6 3099.5L594.6 3097.8L599.7 3099.9L604.7 3097.6L609.7 3096.3L614.8 3098.6L619.8 3099.2L624.8 3097.2L629.8 3096.5L634.9 3097.5L639.9 3100.1L644.9 3099.3L649.9 3096.8L655.0 3097.3L660.0 3096.8L665.1 3096.6L670.1 3099.5L675.2 3097.0L680.2 3098.4L685.3 3097.9L690.3 3096.9L695.4 3099.0L700.5 3096.5L705.5 3098.5L710.6 3096.4L715.6 3097.5L720.7 3096.7L725.7 3096.8L730.8 3099.6L735.9 3098.9L740.9 3096.8L746.0 3099.1L751.0 3096.4L756.1 3097.0L761.1 3098.8L766.2 3097.9L771.3 3095.7L776.3 3099.2L781.4 3096.1L786.4 3096.2L791.5 3098.2L796.5 3096.4L801.6 3096.2L806.7 3095.3L811.7 3095.3L816.8 3097.2L821.8 3095.8L826.9 3097.2L831.9 3096.2L837.0 3096.5L842.1 3098.5L847.1 3096.5L852.2 3096.8L857.2 3098.0L862.3 3095.2L867.3 3095.0L872.4 3098.0L877.5 3097.6L882.5 3095.2L887.6 3095.0L892.6 3097.1L897.7 3097.9L902.7 3094.8L907.8 3097.8L912.9 3097.4L918.0 3096.1L923.1 3095.2L928.2 3093.8L933.3 3093.4L938.4 3096.9L943.5 3093.9L948.7 3095.6L953.8 3093.6L958.9 3095.8L964.0 3094.7L969.1 3093.3L974.2 3092.7L979.3 3094.7L984.4 3092.0L989.5 3092.5L994.6 3093.6L999.7 3094.6L1004.8 3093.5L1009.9 3092.1L1015.0 3094.4L1020.1 3091.4L1025.3 3090.5L1030.4 3091.4L1035.5 3091.9L1040.6 3090.3L1045.7 3090.6L1050.8 3091.2L1055.9 3091.8L1061.0 3089.9L1066.1 3091.0L1071.1 3093.2L1076.2 3093.6L1081.3 3092.4L1086.4 3092.7L1091.4 3092.4L1096.5 3090.7L1101.6 3090.4L1106.6 3090.4L1111.7 3094.1L1116.8 3093.3L1121.8 3094.5L1126.9 3090.8L1132.0 3093.4L1137.1 3092.9L1142.1 3094.0L1147.2 3092.4L1152.3 3095.3L1157.3 3091.7L1162.4 3093.7L1167.5 3094.5L1172.5 3095.3L1177.6 3094.7L1182.7 3094.7L1187.8 3095.2L1192.8 3095.8L1197.9 3093.6L1203.0 3095.0L1208.0 3096.0L1213.1 3096.0L1218.2 3094.3L1223.2 3095.9L1228.3 3096.3L1233.4 3095.2L1238.5 3095.5L1243.5 3094.7L1248.6 3095.6L1253.7 3095.8L1258.7 3093.8L1263.8 3096.1L1268.9 3097.6L1273.9 3097.3L1279.0 3096.8L1284.1 3095.5L1289.2 3097.0L1294.2 3096.5L1299.3 3096.0L1304.4 3097.7L1309.4 3094.8L1314.5 3097.6L1319.6 3094.8L1324.6 3097.2L1329.7 3096.8L1334.8 3095.9L1339.9 3097.9L1344.9 3097.2L1350.0 3097.8L1355.0 3099.0L1360.0 3096.3L1365.0 3095.3L1370.0 3096.4L1375.0 3097.9L1380.0 3096.0L1385.0 3095.8L1390.0 3098.8L1395.0 3097.8L1400.0 3096.9L1405.0 3098.7L1410.0 3096.4L1415.0 3097.7L1420.0 3095.8L1425.0 3096.7L1430.0 3098.2L1435.0 3098.6L1440.0 3098.5L1445.0 3096.5L1450.0 3097.3L1455.0 3096.2L1460.0 3095.4L1465.0 3096.8L1470.0 3098.2L1475.0 3098.2L1480.0 3097.6L1485.0 3098.6L1490.0 3095.9L1495.0 3095.4L1500.0 3096.5L1505.0 3095.8L1510.0 3095.5L1515.0 3096.3L1520.0 3097.2L1525.0 3096.6L1530.0 3095.9L1535.0 3097.9L1540.0 3098.5L1545.0 3096.4L1550.0 3094.8L1555.0 3094.6L1560.0 3098.0L1565.0 3094.6L1570.0 3097.3L1575.0 3096.7L1580.0 3095.7L1585.0 3097.6L1590.0 3094.5L1595.0 3094.9L1600.0 3096.2L1605.0 3094.4L1610.0 3097.6L1615.0 3095.2L1620.0 3094.8L1625.0 3094.4L1630.0 3096.7L1635.0 3096.0L1640.0 3096.7L1645.0 3096.8L1650.0 3097.4L1655.0 3098.0L1660.0 3096.9L1665.0 3094.9L1670.0 3096.0L1675.0 3094.8L1680.0 3094.1L1685.0 3095.9L1690.0 3096.9L1695.2 3094.5L1700.4 3094.7L1705.5 3094.8L1710.7 3096.0L1715.9 3095.0L1721.1 3095.2L1726.3 3095.6L1731.5 3093.9L1736.6 3095.3L1741.8 3095.5L1747.0 3092.0L1752.2 3095.2L1757.4 3094.2L1762.5 3091.6L1767.7 3092.7L1772.9 3093.2L1778.1 3094.1L1783.3 3091.7L1788.5 3092.3L1793.6 3093.3L1798.8 3092.8L1804.0 3093.2L1809.1 3091.4L1814.2 3092.4L1819.4 3090.8L1824.5 3093.0L1829.6 3093.6L1834.7 3093.0L1839.8 3093.5L1845.0 3091.7L1850.1 3094.6L1855.2 3095.1L1860.3 3095.3L1865.5 3093.7L1870.6 3094.9L1875.7 3093.2L1880.8 3095.7L1885.9 3095.7L1891.1 3093.8L1896.2 3092.9L1901.3 3094.6L1906.4 3095.2L1911.5 3096.2L1916.7 3095.3L1921.8 3093.6L1926.9 3096.9L1932.0 3094.1L1937.2 3097.2L1942.3 3094.9L1947.4 3095.7L1952.5 3097.7L1957.6 3095.3L1962.8 3095.5L1967.9 3097.2L1973.0 3098.2L1978.2 3097.2L1983.5 3095.1L1988.8 3094.7L1994.0 3091.4" fill="none" stroke="#ff7f00" stroke-width="12.5" stroke-linejoin="round" stroke-linecap="round"/>
<path d="M320.0 3069.0L325.1 3068.9L330.3 3069.9L335.4 3070.0L340.5 3067.4L345.7 3066.8L350.8 3068.6L355.9 3068.2L361.1 3070.9L366.2 3070.3L371.3 3069.9L376.5 3069.8L381.6 3070.3L386.7 3067.8L391.9 3069.3L397.0 3068.0L402.1 3071.7L407.3 3067.5L412.4 3071.4L417.5 3067.7L422.7 3070.8L427.8 3069.1L432.9 3069.5L438.1 3071.7L443.2 3067.6L448.3 3067.9L453.5 3072.2L458.6 3070.2L463.7 3068.2L468.9 3072.7L474.0 3072.5L479.0 3068.4L484.1 3069.9L489.1 3068.5L494.1 3069.4L499.1 3070.9L504.2 3068.6L509.2 3071.3L514.2 3068.1L519.2 3068.7L524.3 3071.9L529.3 3069.8L534.3 3069.9L539.4 3070.8L544.4 3070.2L549.4 3069.7L554.4 3068.0L559.5 3071.4L564.5 3072.6L569.5 3072.7L574.5 3071.1L579.6 3069.6L584.6 3069.6L589.6 3071.3L594.6 3071.2L599.7 3068.4L604.7 3069.0L609.7 3069.6L614.8 3070.4L619.8 3071.9L624.8 3070.3L629.8 3067.9L634.9 3071.9L639.9 3070.0L644.9 3070.4L649.9 3068.9L655.0 3069.9L660.0 3069.7L665.1 3071.5L670.3 3068.1L675.4 3070.2L680.5 3068.2L685.7 3070.7L690.8 3067.3L695.9 3068.4L701.1 3068.6L706.2 3069.9L711.3 3066.9L716.5 3068.8L721.6 3067.4L726.7 3067.7L731.9 3068.5L737.0 3070.8L742.1 3068.3L747.3 3070.6L752.4 3066.5L757.5 3070.2L762.7 3067.3L767.8 3066.3L772.9 3069.0L778.1 3069.7L783.2 3065.0L788.3 3066.2L793.5 3068.6L798.6 3066.4L803.7 3065.7L808.9 3064.5L814.0 3064.5L819.0 3067.3L824.1 3069.1L829.1 3069.1L834.1 3066.6L839.1 3064.1L844.2 3065.5L849.2 3067.8L854.2 3067.9L859.2 3066.9L864.3 3064.8L869.3 3066.2L874.3 3065.9L879.4 3066.6L884.4 3064.7L889.4 3068.1L894.4 3067.7L899.5 3064.0L904.5 3064.6L909.5 3067.4L914.5 3064.4L919.6 3067.7L924.6 3065.4L929.6 3066.3L934.6 3066.3L939.7 3063.7L944.7 3064.0L949.7 3063.8L954.8 3065.9L959.8 3065.9L964.8 3063.0L969.8 3066.7L974.9 3064.3L979.9 3063.4L984.9 3064.3L989.9 3066.9L995.0 3064.8L1000.0 3065.0L1005.0 3066.5L1010.0 3066.7L1015.1 3065.7L1020.1 3064.0L1025.1 3064.8L1030.1 3066.4L1035.2 3065.8L1040.2 3064.8L1045.2 3063.6L1050.2 3063.7L1055.2 3065.6L1060.3 3064.7L1065.3 3062.0L1070.3 3065.5L1075.3 3066.4L1080.3 3065.9L1085.4 3066.4L1090.4 3066.5L1095.4 3064.6L1100.4 3065.8L1105.4 3063.8L1110.5 3062.4L1115.5 3063.7L1120.5 3063.5L1125.5 3066.6L1130.6 3065.3L1135.6 3064.6L1140.6 3065.0L1145.8 3062.1L1151.0 3063.8L1156.2 3064.2L1161.4 3062.3L1166.7 3061.2L1171.9 3061.6L1177.1 3060.8L1182.3 3062.2L1187.5 3059.1L1192.7 3058.5L1197.9 3059.2L1203.1 3060.7L1208.3 3060.6L1213.6 3059.8L1218.8 3060.7L1224.0 3057.5L1229.2 3055.4L1234.4 3057.3L1239.7 3056.1L1245.1 3053.7L1250.4 3055.0L1255.7 3052.4L1261.0 3050.8L1266.4 3050.2L1271.7 3052.2L1277.0 3046.4L1282.3 3047.1L1287.7 3045.7L1293.0 3044.2L1298.2 3045.7L1303.4 3045.0L1308.6 3048.8L1313.8 3047.0L1319.0 3048.3L1324.2 3046.0L1329.4 3047.8L1334.6 3048.9L1339.8 3050.4L1345.0 3047.7L1350.2 3050.7L1355.5 3054.6L1360.7 3056.4L1366.0 3055.3L1371.2 3058.8L1376.4 3061.9L1381.7 3062.0L1386.9 3065.3L1391.9 3065.5L1396.9 3067.3L1402.0 3065.4L1407.0 3066.3L1412.0 3064.9L1417.0 3067.1L1422.1 3065.3L1427.1 3066.5L1432.1 3066.0L1437.1 3066.0L1442.1 3065.4L1447.2 3066.1L1452.2 3068.0L1457.2 3066.8L1462.3 3065.8L1467.3 3069.6L1472.4 3067.0L1477.4 3070.3L1482.5 3068.6L1487.6 3067.6L1492.6 3070.0L1497.7 3070.2L1502.7 3067.3L1507.8 3066.3L1512.9 3068.9L1517.9 3070.0L1523.0 3068.8L1528.1 3069.7L1533.1 3067.9L1538.2 3068.9L1543.2 3067.2L1548.3 3067.9L1553.4 3067.8L1558.4 3067.9L1563.5 3068.0L1568.5 3070.0L1573.6 3066.8L1578.7 3067.0L1583.7 3067.3L1588.8 3070.9L1593.8 3068.7L1598.9 3066.4L1604.0 3070.3L1609.0 3070.5L1614.1 3070.3L1619.1 3068.0L1624.2 3069.9L1629.3 3067.8L1634.3 3066.9L1639.4 3070.6L1644.5 3070.5L1649.5 3067.4L1654.6 3070.7L1659.6 3066.5L1664.7 3067.9L1669.8 3066.5L1674.8 3067.3L1679.9 3067.3L1684.9 3070.1L1690.0 3068.0L1695.1 3067.4L1700.1 3067.3L1705.2 3067.9L1710.3 3070.7L1715.3 3069.4L1720.4 3066.8L1725.5 3069.7L1730.5 3068.9L1735.6 3068.4L1740.7 3068.8L1745.7 3069.4L1750.8 3070.1L1755.9 3068.5L1760.9 3069.2L1766.0 3068.3L1771.1 3069.1L1776.1 3067.8L1781.2 3067.9L1786.3 3068.4L1791.3 3069.3L1796.4 3067.1L1801.5 3070.3L1806.5 3068.1L1811.6 3069.9L1816.7 3069.0L1821.7 3070.3L1826.8 3068.9L1831.9 3067.6L1836.9 3067.5L1842.0 3068.4L1847.1 3069.1L1852.1 3069.5L1857.2 3065.9L1862.3 3065.6L1867.3 3065.8L1872.4 3065.6L1877.5 3065.4L1882.5 3065.1L1887.6 3066.3L1892.7 3065.6L1897.7 3068.4L1902.8 3068.0L1907.9 3069.8L1912.9 3069.7L1918.0 3068.6L1923.1 3069.6L1928.1 3064.9L1933.2 3065.9L1938.3 3069.3L1943.3 3067.0L1948.4 3065.7L1953.5 3068.4L1958.5 3066.7L1963.6 3067.2L1968.7 3066.1L1973.7 3065.7L1978.8 3064.8L1983.9 3067.4L1988.9 3069.1L1994.0 3066.8" fill="none" stroke="#00bfbf" stroke-width="13" stroke-linejoin="round" stroke-linecap="round"/>
<path d="M320.0 3004.7L325.1 3003.7L330.3 3006.0L335.4 3006.2L340.5 3007.2L345.7 3004.1L350.8 3004.5L355.9 3004.3L361.1 3004.9L366.2 3007.6L371.3 3004.8L376.5 3007.0L381.6 3005.6L386.7 3006.2L391.9 3007.1L397.0 3009.3L402.1 3008.3L407.3 3005.6L412.4 3007.1L417.5 3006.6L422.7 3010.4L427.8 3010.3L432.9 3010.5L438.1 3010.8L443.2 3010.6L448.3 3011.8L453.5 3011.2L458.6 3008.7L463.7 3011.9L468.9 3010.2L474.0 3011.8L479.0 3010.8L484.1 3010.0L489.1 3009.6L494.1 3009.9L499.1 3009.2L504.2 3008.2L509.2 3011.6L514.2 3011.5L519.2 3012.3L524.3 3010.8L529.3 3010.0L534.3 3010.9L539.4 3007.8L544.4 3010.4L549.4 3009.2L554.4 3007.8L559.5 3007.9L564.5 3009.4L569.5 3008.0L574.5 3008.9L579.6 3009.6L584.6 3008.5L589.6 3007.1L594.6 3008.8L599.7 3007.5L604.7 3007.4L609.7 3007.1L614.8 3007.9L619.8 3006.4L624.8 3009.2L629.8 3010.7L634.9 3007.8L639.9 3009.4L644.9 3010.4L649.9 3005.9L655.0 3006.3L660.0 3009.5L665.2 3009.3L670.5 3007.8L675.7 3005.0L681.0 3005.8L686.2 3007.7L691.4 3007.3L696.7 3006.5L701.9 3003.0L707.1 3005.8L712.4 3003.0L717.6 3004.3L722.8 3000.9L728.1 3004.7L733.3 3002.4L738.6 3002.6L743.8 2999.6L748.8 3000.8L753.8 2999.7L758.8 2999.0L763.9 2997.0L768.9 2998.0L773.9 2995.2L778.9 2994.2L783.9 2992.7L788.9 2994.5L793.9 2990.8L799.0 2990.5L804.0 2988.9L809.0 2990.9L814.0 2989.7L819.2 2988.3L824.4 2984.5L829.7 2985.2L834.9 2983.4L840.1 2980.9L845.3 2979.1L850.6 2982.8L855.8 2977.1L861.0 2976.7L866.2 2975.8L871.4 2976.6L876.6 2973.3L881.8 2974.4L887.0 2973.1L892.2 2974.7L897.4 2969.8L902.6 2970.7L907.8 2970.7L913.0 2974.1L918.2 2972.9L923.4 2973.7L928.6 2975.7L933.9 2974.8L939.1 2974.6L944.3 2977.9L949.5 2981.0L954.7 2981.2L959.7 2979.3L964.8 2982.0L969.8 2983.3L974.8 2980.9L979.9 2983.1L984.9 2982.4L989.9 2982.4L995.0 2983.1L1000.0 2983.2L1005.2 2985.0L1010.4 2984.5L1015.6 2987.3L1020.8 2986.8L1026.1 2991.2L1031.3 2991.4L1036.5 2989.5L1041.7 2994.3L1046.9 2992.5L1052.2 2994.4L1057.6 2995.4L1062.9 2994.8L1068.2 2995.1L1073.5 2996.4L1078.9 2995.5L1084.2 2999.6L1089.5 2996.4L1094.8 3000.5L1100.2 2998.0L1105.5 2999.0L1110.8 2999.0L1116.1 2996.8L1121.5 2996.9L1126.8 2997.6L1132.1 2997.6L1137.4 2999.3L1142.7 2999.5L1148.0 2994.3L1153.4 2996.3L1158.7 2993.9L1164.0 2996.8L1168.7 2992.7L1173.4 2993.7L1178.1 2990.2L1182.8 2986.4L1187.5 2984.0L1192.2 2983.5L1196.9 2984.8L1201.6 2979.5L1206.3 2979.4L1211.0 2977.1L1215.7 2974.1L1220.4 2973.6L1225.0 2967.8L1229.7 2967.6L1234.4 2964.5L1239.1 2963.0L1243.8 2958.1L1248.4 2957.3L1253.1 2952.1L1257.8 2950.0L1262.2 2946.8L1266.5 2944.6L1270.9 2941.5L1275.2 2934.2L1279.6 2930.9L1283.9 2929.5L1288.3 2927.6L1293.6 2925.6L1298.8 2923.9L1304.1 2926.7L1309.4 2922.8L1313.3 2924.9L1317.2 2927.8L1321.2 2930.8L1325.1 2937.4L1329.0 2937.4L1332.9 2943.6L1336.9 2947.5L1341.0 2951.3L1345.0 2953.5L1349.6 2955.1L1354.2 2959.6L1358.8 2964.2L1363.4 2967.1L1367.8 2967.9L1372.2 2973.2L1376.6 2972.8L1381.0 2976.7L1385.4 2983.1L1389.8 2983.4L1394.2 2985.3L1398.6 2990.8L1403.5 2990.5L1408.4 2989.7L1413.2 2991.1L1418.1 2993.7L1423.0 2995.4L1427.9 2999.8L1432.8 2997.7L1437.7 3002.1L1442.5 3003.5L1447.4 3002.6L1452.3 3006.9L1457.2 3007.1L1462.2 3006.2L1467.2 3005.6L1472.3 3007.1L1477.3 3009.8L1482.3 3008.5L1487.3 3007.3L1492.3 3008.7L1497.4 3009.7L1502.4 3008.8L1507.4 3011.2L1512.4 3009.0L1517.5 3013.5L1522.5 3010.8L1527.5 3010.9L1532.5 3013.7L1537.5 3012.6L1542.6 3015.8L1547.6 3014.2L1552.6 3014.6L1557.6 3016.5L1562.7 3013.8L1567.7 3016.8L1572.7 3016.6L1577.7 3015.8L1582.7 3018.8L1587.8 3014.5L1592.8 3019.0L1597.8 3015.7L1602.9 3019.3L1608.0 3016.0L1613.2 3015.7L1618.3 3018.1L1623.4 3020.3L1628.5 3017.1L1633.7 3018.4L1638.8 3019.2L1643.9 3017.5L1649.0 3019.0L1654.1 3016.6L1659.3 3018.9L1664.4 3020.6L1669.5 3018.6L1674.6 3018.2L1679.8 3017.5L1684.9 3020.9L1690.0 3019.6L1695.0 3022.0L1700.0 3021.0L1705.1 3017.7L1710.1 3021.7L1715.1 3021.7L1720.1 3021.0L1725.2 3021.0L1730.2 3020.1L1735.2 3020.2L1740.2 3019.9L1745.3 3019.4L1750.3 3017.6L1755.3 3016.9L1760.3 3019.8L1765.3 3019.0L1770.4 3016.2L1775.4 3019.1L1780.4 3018.8L1785.4 3018.2L1790.5 3019.5L1795.5 3019.9L1800.5 3017.3L1805.5 3019.4L1810.6 3017.7L1815.6 3018.0L1820.6 3017.1L1825.7 3019.5L1830.8 3016.9L1835.9 3019.3L1841.0 3016.0L1846.1 3017.5L1851.2 3018.5L1856.3 3017.2L1861.4 3015.5L1866.5 3013.9L1871.6 3015.7L1876.7 3015.2L1881.8 3017.0L1886.9 3016.7L1892.0 3017.5L1897.1 3014.7L1902.2 3014.3L1907.3 3014.9L1912.4 3015.7L1917.5 3012.2L1922.6 3012.7L1927.7 3012.1L1932.8 3012.9L1937.9 3012.6L1943.0 3015.7L1948.1 3011.8L1953.2 3015.2L1958.3 3011.9L1963.4 3011.2L1968.5 3014.9L1973.6 3010.3L1978.7 3010.3L1983.8 3010.2L1988.9 3009.7L1994.0 3011.7" fill="none" stroke="#595959" stroke-width="13" stroke-linejoin="round" stroke-linecap="round"/>
<path d="M320.0 2926.0L325.1 2924.2L330.2 2927.3L335.3 2927.1L340.4 2928.7L345.5 2925.5L350.6 2925.5L355.7 2928.0L360.8 2927.7L365.9 2926.1L371.0 2928.1L376.2 2926.8L381.3 2928.8L386.4 2925.6L391.5 2926.3L396.6 2929.8L401.7 2927.2L406.8 2926.8L411.9 2929.7L417.0 2928.9L422.1 2926.6L427.2 2928.8L432.3 2929.5L437.4 2927.2L442.5 2929.8L447.6 2927.4L452.7 2928.7L457.8 2927.6L462.9 2928.4L468.0 2932.5L473.1 2929.8L478.2 2932.9L483.3 2930.3L488.3 2931.4L493.4 2932.9L498.5 2932.2L503.6 2929.5L508.7 2932.1L513.8 2932.5L518.9 2930.4L524.0 2930.2L529.1 2934.3L534.2 2932.7L539.3 2931.3L544.4 2932.8L549.4 2931.5L554.5 2934.3L559.5 2932.7L564.5 2930.6L569.5 2934.1L574.6 2930.4L579.6 2931.2L584.6 2929.9L589.6 2933.3L594.7 2930.1L599.7 2932.1L604.7 2929.8L609.7 2931.7L614.8 2932.6L619.8 2931.7L624.8 2931.2L629.8 2931.3L634.9 2931.0L639.9 2931.7L644.9 2929.1L649.9 2930.9L655.0 2929.6L660.0 2932.6L665.0 2932.8L670.0 2928.2L675.1 2928.4L680.1 2931.1L685.1 2930.2L690.1 2927.2L695.2 2930.5L700.2 2931.5L705.2 2928.7L710.2 2928.1L715.3 2929.0L720.3 2930.7L725.5 2926.3L730.7 2925.4L735.9 2923.8L741.1 2924.9L746.4 2923.1L751.6 2920.9L756.8 2920.6L762.0 2917.7L767.2 2918.1L772.4 2920.1L777.6 2916.9L782.8 2914.0L788.0 2916.0L793.2 2911.8L798.4 2910.0L803.6 2907.7L808.8 2906.9L814.0 2905.9L819.1 2905.1L824.2 2907.3L829.2 2903.3L834.3 2902.2L839.4 2903.0L844.5 2903.6L849.6 2899.5L854.7 2900.9L859.8 2898.0L864.8 2898.0L869.9 2897.2L875.0 2897.9L880.5 2897.8L885.9 2897.3L891.4 2899.7L896.9 2898.1L902.3 2899.0L907.8 2902.6L913.0 2901.3L918.2 2903.2L923.4 2901.7L928.6 2905.5L933.9 2904.8L939.1 2903.8L944.3 2908.0L949.5 2906.5L954.7 2906.6L959.7 2907.3L964.8 2907.5L969.8 2909.0L974.8 2912.5L979.9 2910.8L984.9 2912.5L989.9 2914.4L995.0 2916.0L1000.0 2916.2L1005.2 2919.0L1010.4 2917.1L1015.6 2918.5L1020.8 2919.5L1026.1 2918.8L1031.3 2920.1L1036.5 2920.5L1041.7 2924.1L1046.9 2922.0L1052.2 2924.8L1057.6 2922.8L1062.9 2925.1L1068.2 2925.4L1073.5 2924.1L1078.9 2927.2L1084.2 2926.0L1089.5 2925.7L1094.8 2923.3L1100.2 2925.3L1105.5 2924.8L1110.8 2924.8L1116.1 2926.1L1121.5 2924.7L1126.8 2919.6L1132.1 2921.6L1137.4 2921.8L1142.7 2918.8L1148.0 2915.5L1153.4 2918.3L1158.7 2915.1L1164.0 2916.8L1168.7 2914.2L1173.4 2911.8L1178.1 2910.2L1182.8 2903.8L1187.5 2905.3L1192.2 2900.8L1196.9 2897.8L1201.6 2896.9L1206.3 2895.9L1211.0 2890.8L1215.7 2890.5L1220.4 2889.6L1225.0 2885.5L1229.7 2883.1L1234.4 2879.4L1239.1 2880.2L1243.8 2874.0L1248.4 2873.6L1253.1 2870.8L1257.8 2865.0L1262.5 2866.7L1267.2 2859.6L1271.9 2860.0L1276.6 2856.4L1281.3 2853.0L1287.2 2854.5L1293.0 2854.0L1298.8 2856.0L1304.7 2857.2L1309.4 2863.5L1314.1 2862.3L1318.8 2866.1L1323.5 2873.6L1328.2 2876.1L1332.4 2880.2L1336.6 2886.1L1340.8 2888.5L1345.0 2894.7L1349.6 2895.7L1354.2 2901.0L1358.8 2899.8L1363.4 2904.7L1368.4 2908.1L1373.5 2911.8L1378.5 2912.7L1383.5 2916.6L1388.5 2920.8L1393.6 2920.7L1398.6 2922.3L1403.9 2922.3L1409.3 2927.3L1414.6 2926.2L1419.9 2926.7L1425.2 2928.2L1430.6 2927.0L1435.9 2928.4L1441.2 2929.3L1446.5 2930.3L1451.9 2934.1L1457.2 2931.9L1462.2 2931.5L1467.2 2935.7L1472.3 2934.5L1477.3 2932.2L1482.3 2935.7L1487.3 2936.1L1492.3 2936.2L1497.4 2937.2L1502.4 2935.8L1507.4 2935.1L1512.4 2938.0L1517.5 2937.8L1522.5 2938.5L1527.5 2936.2L1532.7 2936.9L1537.8 2938.1L1543.0 2936.3L1548.2 2937.1L1553.3 2936.1L1558.5 2937.2L1563.7 2934.9L1568.8 2935.3L1574.0 2936.7L1579.2 2933.8L1584.3 2932.8L1589.5 2934.8L1594.7 2932.0L1599.8 2935.3L1605.0 2932.1L1610.0 2935.5L1615.0 2933.9L1620.0 2932.3L1625.0 2934.4L1630.0 2935.5L1635.0 2934.8L1640.0 2935.8L1645.0 2934.7L1650.0 2937.9L1655.0 2934.3L1660.0 2937.7L1665.0 2934.1L1670.0 2936.8L1675.0 2934.8L1680.0 2935.4L1685.0 2938.0L1690.0 2939.8L1695.0 2937.0L1700.0 2937.7L1705.1 2938.2L1710.1 2939.0L1715.1 2938.0L1720.1 2938.1L1725.2 2940.8L1730.2 2939.5L1735.2 2938.7L1740.2 2941.2L1745.3 2942.3L1750.3 2939.6L1755.3 2937.7L1760.3 2939.4L1765.3 2942.5L1770.4 2939.1L1775.4 2939.4L1780.4 2942.5L1785.4 2939.3L1790.5 2943.2L1795.5 2940.2L1800.5 2941.2L1805.5 2942.4L1810.6 2940.2L1815.6 2943.7L1820.6 2942.2L1825.7 2943.7L1830.8 2943.5L1835.9 2940.0L1841.0 2943.6L1846.1 2943.4L1851.2 2940.4L1856.3 2942.0L1861.4 2939.9L1866.5 2941.4L1871.6 2942.4L1876.7 2940.4L1881.8 2941.0L1886.9 2938.9L1892.0 2942.4L1897.1 2941.1L1902.2 2941.9L1907.3 2938.1L1912.4 2941.2L1917.5 2937.8L1922.6 2940.0L1927.7 2938.3L1932.8 2941.5L1937.9 2937.4L1943.0 2939.0L1948.1 2938.9L1953.2 2938.3L1958.3 2936.6L1963.4 2939.5L1968.5 2940.9L1973.6 2937.7L1978.7 2940.2L1983.8 2937.3L1988.9 2936.8L1994.0 2937.8" fill="none" stroke="#00bf8c" stroke-width="13" stroke-linejoin="round" stroke-linecap="round"/>
<path d="M320.0 2865.0L324.2 2871.0L328.3 2867.1L332.5 2875.0L336.7 2873.7L340.8 2882.2L345.0 2878.2L350.2 2885.0L355.4 2884.4L360.7 2886.4L365.9 2888.2L371.1 2883.7L376.3 2885.1L381.6 2888.5L386.8 2886.3L392.0 2886.9L397.0 2886.0L402.1 2889.7L407.1 2889.2L412.1 2887.9L417.1 2883.2L422.2 2887.5L427.2 2883.9L432.2 2881.2L437.3 2882.1L442.3 2881.2L447.3 2878.1L452.3 2880.8L457.4 2878.7L462.4 2879.5L467.6 2882.3L472.8 2880.6L477.9 2879.2L483.1 2882.7L488.3 2883.9L493.5 2880.7L498.6 2884.1L503.8 2877.9L509.0 2879.1L512.2 2873.8L515.4 2873.6L518.6 2866.3L523.8 2869.3L528.9 2869.1L534.1 2873.4L539.2 2878.9L544.4 2876.2L549.6 2877.4L554.8 2878.0L560.0 2882.0L565.2 2885.7L570.5 2884.7L575.7 2884.7L580.9 2886.5L586.1 2885.3L591.3 2891.7L596.6 2887.2L601.9 2886.0L607.2 2886.2L612.4 2889.5L617.7 2885.6L623.0 2889.3L628.3 2885.0L633.6 2885.4L638.9 2882.4L644.1 2887.9L649.4 2886.8L654.7 2884.2L660.0 2881.3L665.0 2883.7L670.0 2882.7L675.1 2885.8L680.1 2886.2L685.1 2884.7L690.1 2881.3L695.2 2879.4L700.2 2885.2L705.2 2885.3L710.2 2879.6L715.3 2881.8L720.3 2881.5L725.3 2884.3L730.3 2877.1L735.4 2876.5L740.4 2881.3L745.4 2878.7L750.4 2877.3L755.5 2878.8L760.5 2876.9L765.5 2876.9L770.5 2873.2L775.5 2871.3L780.6 2870.1L785.6 2871.7L790.6 2873.2L796.2 2870.0L801.9 2868.3L807.5 2868.8L813.2 2868.0L818.8 2865.9L824.1 2862.4L829.3 2864.5L834.6 2862.9L839.9 2862.1L845.2 2860.6L850.5 2853.0L855.7 2856.1L861.0 2852.4L866.2 2851.9L871.4 2852.0L876.6 2848.6L881.8 2848.6L887.0 2853.0L892.2 2847.6L897.4 2850.9L902.6 2848.5L907.8 2845.1L913.0 2845.9L918.2 2848.7L923.4 2850.2L928.6 2848.4L933.9 2847.3L939.1 2848.8L944.3 2854.4L949.5 2854.3L954.7 2850.8L959.7 2855.1L964.8 2852.5L969.8 2850.0L974.8 2853.1L979.9 2847.0L984.9 2846.0L989.9 2846.9L995.0 2848.9L1000.0 2846.7L1005.2 2844.5L1010.4 2845.6L1015.6 2840.2L1020.8 2841.1L1026.1 2833.8L1031.3 2837.4L1036.5 2831.2L1041.7 2832.9L1046.9 2832.4L1051.9 2828.7L1056.9 2825.9L1061.9 2823.3L1067.0 2822.4L1072.0 2817.4L1077.0 2814.1L1082.0 2814.0L1087.3 2814.0L1092.7 2811.4L1098.0 2814.5L1103.3 2814.2L1108.6 2812.3L1114.0 2816.4L1119.3 2817.1L1124.6 2814.2L1129.9 2818.1L1135.3 2819.2L1140.6 2817.1L1145.6 2817.4L1150.7 2818.4L1155.7 2819.4L1160.7 2822.4L1165.7 2829.5L1170.8 2824.9L1175.8 2832.9L1180.8 2830.0L1185.9 2829.3L1190.9 2823.2L1195.9 2825.7L1200.9 2821.2L1206.0 2823.2L1211.0 2822.7L1216.2 2820.6L1221.4 2817.7L1226.6 2818.6L1231.8 2812.5L1237.0 2810.4L1242.2 2813.8L1247.4 2806.6L1252.6 2807.6L1257.8 2806.0L1262.5 2807.1L1267.2 2801.5L1271.9 2800.8L1276.6 2798.2L1281.2 2795.9L1285.9 2793.8L1290.6 2791.6L1295.3 2790.4L1300.0 2787.1L1304.7 2785.0L1309.7 2787.3L1314.8 2786.5L1319.8 2780.2L1324.8 2783.9L1329.9 2776.2L1334.9 2777.2L1340.0 2780.0L1345.0 2773.7L1350.2 2776.3L1355.5 2777.7L1360.7 2774.2L1366.0 2772.2L1371.2 2768.3L1376.4 2770.4L1381.7 2769.6L1386.9 2771.0L1391.9 2766.2L1396.9 2767.1L1401.9 2762.3L1407.0 2761.9L1412.0 2760.8L1417.0 2754.7L1422.0 2758.2L1427.0 2755.0L1432.1 2755.5L1437.1 2759.3L1442.1 2756.9L1447.1 2756.9L1452.2 2755.1L1457.2 2755.4L1462.4 2760.5L1467.6 2760.0L1472.8 2762.4L1478.0 2763.9L1483.2 2765.1L1488.4 2763.9L1493.6 2769.0L1498.8 2767.4L1504.0 2766.7L1509.2 2772.9L1514.4 2774.4L1519.7 2770.3L1524.9 2776.9L1530.1 2776.9L1535.3 2775.3L1540.6 2778.7L1545.8 2782.4L1551.0 2778.4L1556.2 2783.7L1561.4 2782.6L1566.6 2783.8L1571.8 2791.2L1577.0 2793.4L1582.2 2792.8L1587.4 2795.6L1592.6 2794.6L1597.8 2796.7L1603.0 2799.3L1608.2 2802.0L1613.4 2802.5L1618.6 2802.2L1623.9 2804.6L1629.1 2804.4L1634.3 2808.5L1639.5 2810.3L1644.7 2810.9L1649.7 2808.1L1654.8 2808.8L1659.8 2813.3L1664.9 2809.5L1669.9 2811.8L1675.0 2808.1L1680.0 2808.7L1685.2 2809.9L1690.4 2813.5L1695.6 2810.9L1700.8 2814.5L1706.1 2810.9L1711.3 2815.7L1716.5 2816.3L1721.7 2813.7L1726.9 2814.1L1732.1 2814.7L1737.3 2816.9L1742.5 2815.3L1747.7 2816.2L1753.0 2820.7L1758.2 2822.1L1763.4 2817.2L1768.6 2820.2L1773.8 2821.7L1779.0 2823.9L1784.2 2821.3L1789.4 2821.2L1794.6 2823.0L1799.8 2823.3L1805.0 2822.9L1810.2 2822.4L1815.4 2823.8L1820.7 2818.6L1825.9 2823.8L1831.1 2820.1L1836.3 2821.2L1841.5 2821.6L1846.7 2822.6L1851.9 2823.2L1857.1 2823.3L1862.3 2821.6L1867.5 2822.0L1872.5 2824.6L1877.6 2827.0L1882.6 2823.7L1887.6 2821.6L1892.6 2828.0L1897.7 2828.7L1902.7 2828.9L1907.7 2828.0L1912.8 2826.9L1917.8 2825.0L1922.8 2831.4L1927.8 2828.6L1932.9 2826.9L1937.9 2830.9L1942.8 2828.9L1947.8 2833.4L1952.7 2837.0L1957.7 2840.5L1962.6 2839.5L1967.6 2840.4L1972.5 2843.5L1977.5 2849.0L1982.4 2845.9L1986.3 2841.6L1990.1 2838.3L1994.0 2834.7" fill="none" stroke="#6a00c8" stroke-width="15" stroke-linejoin="round" stroke-linecap="round"/>
<path d="M321.0 2733.0L326.2 2732.8L331.4 2733.3L336.6 2733.3L341.7 2733.5L346.9 2733.6L352.1 2734.5L357.3 2733.5L362.5 2734.8L367.7 2733.1L372.8 2734.2L378.0 2734.4L383.2 2734.0L388.4 2736.0L393.6 2734.9L398.8 2736.5L403.9 2737.2L409.1 2735.3L414.3 2737.3L419.5 2737.3L424.7 2737.0L429.9 2735.3L435.0 2736.7L440.2 2737.4L445.4 2736.6L450.6 2736.6L455.8 2736.8L461.0 2736.5L466.2 2738.0L471.4 2736.6L476.7 2736.8L481.9 2737.4L487.1 2738.2L492.3 2736.2L497.5 2735.3L502.7 2738.0L507.9 2737.5L513.1 2737.3L518.3 2736.5L523.6 2735.5L528.8 2735.2L534.0 2735.6L539.2 2736.0L544.4 2734.7L549.4 2736.6L554.5 2736.7L559.5 2734.5L564.5 2737.0L569.5 2736.0L574.6 2737.3L579.6 2735.9L584.6 2736.9L589.6 2735.9L594.7 2736.3L599.7 2736.0L604.7 2734.6L609.7 2734.9L614.8 2735.2L619.8 2735.7L624.8 2735.6L629.8 2736.1L634.9 2736.5L639.9 2735.7L644.9 2735.5L649.9 2736.0L655.0 2737.4L660.0 2736.8L665.0 2736.2L670.1 2736.4L675.1 2734.3L680.1 2733.6L685.1 2733.3L690.2 2733.1L695.2 2732.5L700.2 2734.0L705.2 2734.6L710.3 2731.9L715.3 2733.3L720.3 2733.8L725.3 2733.0L730.4 2730.8L735.4 2732.0L740.4 2730.6L745.4 2730.0L750.5 2729.2L755.5 2730.5L759.4 2728.5L763.3 2722.9L767.2 2719.9L774.2 2717.2L775.4 2722.4L776.6 2729.9L777.8 2737.0L783.0 2736.3L788.2 2735.1L793.4 2735.1L798.6 2735.7L803.8 2737.1L809.0 2738.0L814.2 2736.8L819.4 2735.7L824.6 2736.1L829.8 2736.7L835.0 2735.9L840.2 2736.0L845.4 2737.0L850.6 2738.3L855.8 2736.5L861.0 2738.5L864.9 2733.5L868.8 2727.1L872.7 2721.4L878.5 2721.3L884.4 2722.7L885.2 2728.2L886.0 2733.4L886.8 2736.5L892.0 2737.2L897.3 2736.0L902.5 2736.8L907.8 2736.8L910.1 2731.0L912.5 2725.6L917.6 2728.3L922.8 2726.2L927.9 2726.7L933.1 2726.7L938.2 2726.5L943.4 2726.7L948.5 2726.4L953.7 2726.3L958.8 2725.0L964.0 2726.6L969.1 2726.6L974.3 2726.7L979.4 2725.4L984.6 2725.8L989.7 2726.8L994.9 2726.5L1000.0 2724.4L1005.2 2724.6L1010.4 2723.4L1015.6 2724.4L1020.8 2722.8L1026.1 2722.2L1031.3 2721.0L1036.5 2721.1L1041.7 2721.2L1046.9 2720.3L1052.0 2718.6L1057.2 2718.7L1062.3 2719.0L1067.5 2716.8L1072.6 2718.9L1077.8 2715.9L1082.9 2717.2L1088.1 2715.4L1093.2 2717.4L1094.9 2722.9L1096.5 2727.8L1098.2 2735.0L1098.3 2730.8L1098.3 2725.7L1098.4 2719.9L1098.5 2714.7L1098.6 2709.8L1098.6 2705.1L1098.7 2698.7L1098.8 2693.8L1098.8 2689.2L1098.9 2683.2L1099.0 2677.1L1099.1 2673.0L1099.1 2667.1L1099.2 2663.0L1099.3 2657.9L1099.4 2653.2L1099.4 2645.6L1099.5 2640.2L1099.6 2637.7L1099.6 2631.9L1099.7 2627.5L1099.8 2621.8L1099.9 2617.0L1099.9 2609.5L1100.0 2604.4L1101.4 2610.6L1102.7 2616.0L1104.1 2619.1L1105.5 2626.6L1106.8 2629.4L1108.2 2634.3L1108.8 2640.1L1109.5 2644.5L1110.1 2649.3L1110.8 2654.4L1111.4 2659.4L1112.0 2664.9L1112.7 2671.6L1113.3 2677.0L1113.9 2682.1L1114.6 2686.2L1115.2 2692.3L1115.9 2695.5L1116.5 2702.9L1120.7 2705.7L1124.8 2709.0L1129.0 2713.9L1133.2 2717.5L1138.2 2718.5L1143.2 2716.7L1148.1 2714.9L1153.1 2714.8L1158.1 2713.8L1163.1 2715.7L1168.1 2713.4L1173.0 2713.9L1178.0 2712.7L1183.0 2711.4L1184.9 2707.7L1186.8 2702.4L1188.7 2696.1L1190.7 2694.2L1192.6 2687.5L1194.5 2683.7L1196.4 2678.3L1197.7 2674.6L1199.1 2666.9L1200.4 2661.2L1201.7 2655.8L1203.1 2651.6L1204.4 2647.6L1205.7 2641.1L1207.0 2637.2L1208.4 2629.5L1209.7 2626.7L1211.2 2629.5L1212.7 2636.8L1214.1 2639.9L1215.6 2646.2L1217.1 2651.5L1218.6 2657.7L1220.0 2661.2L1221.5 2667.7L1223.0 2670.5L1224.9 2678.2L1226.8 2682.3L1228.7 2687.6L1230.6 2694.1L1232.5 2697.4L1234.4 2703.5L1236.3 2708.7L1241.3 2705.6L1246.3 2702.9L1251.2 2701.5L1256.2 2698.8L1261.2 2697.6L1266.2 2694.7L1270.9 2690.4L1275.5 2689.0L1280.2 2686.4L1284.8 2682.2L1289.5 2677.9L1290.8 2672.6L1292.2 2669.2L1293.5 2662.4L1294.8 2657.9L1296.2 2650.6L1297.5 2647.5L1298.8 2642.4L1300.1 2635.2L1301.5 2630.0L1302.8 2625.8L1303.0 2621.6L1303.1 2616.1L1303.3 2608.8L1303.5 2604.0L1303.6 2601.3L1303.8 2594.8L1303.9 2591.4L1304.1 2584.9L1304.3 2581.0L1304.4 2574.1L1304.6 2571.3L1304.8 2564.8L1304.9 2558.4L1305.1 2553.9L1305.3 2548.6L1305.4 2544.5L1305.6 2541.1L1305.7 2536.1L1305.9 2531.0L1306.1 2524.4L1306.2 2520.4L1306.4 2515.3L1306.6 2510.6L1306.7 2505.9L1306.9 2500.5L1307.0 2495.3L1307.2 2488.9L1307.4 2483.4L1307.5 2479.1L1307.7 2473.7L1307.9 2470.1L1308.0 2463.3L1308.2 2458.4L1308.4 2454.9L1308.5 2447.8L1308.7 2442.9L1308.8 2437.6L1309.0 2432.7L1309.2 2427.9L1309.3 2424.8L1309.5 2418.3L1309.6 2412.7L1309.7 2408.8L1309.8 2403.3L1309.9 2397.2L1310.1 2392.3L1310.2 2387.8L1310.3 2383.2L1310.4 2377.3L1310.5 2373.1L1310.6 2368.2L1310.7 2364.5L1310.8 2358.4L1310.9 2352.4L1311.0 2347.1L1311.2 2341.9L1311.3 2337.5L1311.4 2334.1L1311.5 2329.1L1311.6 2321.5L1311.7 2317.9L1311.8 2313.2L1311.9 2308.6L1312.0 2303.1L1312.1 2297.6L1312.3 2290.9L1312.4 2286.4L1312.5 2283.3L1312.6 2278.1L1312.7 2273.0L1312.8 2266.3L1312.9 2262.5L1313.0 2257.5L1313.1 2251.2L1313.2 2246.0L1313.4 2241.3L1313.5 2236.4L1313.6 2229.8L1313.7 2224.7L1313.8 2222.6L1313.9 2215.7L1314.0 2210.7L1314.1 2206.1L1314.2 2200.9L1314.3 2196.3L1314.5 2190.7L1314.6 2184.1L1314.7 2179.1L1314.8 2174.7L1314.9 2169.9L1315.0 2166.7L1315.1 2160.2L1315.2 2154.0L1315.3 2151.1L1315.4 2144.4L1315.6 2139.7L1315.7 2135.2L1315.8 2130.4L1315.9 2123.9L1316.0 2119.3L1316.2 2113.0L1316.4 2110.7L1316.6 2105.4L1316.8 2100.1L1317.0 2093.1L1317.2 2089.3L1317.3 2083.6L1317.5 2077.6L1317.7 2072.7L1317.9 2069.5L1318.1 2063.6L1318.3 2058.5L1318.5 2052.0L1318.7 2048.2L1318.9 2044.0L1319.1 2036.8L1319.3 2031.8L1319.5 2028.8L1319.7 2021.7L1319.8 2017.1L1320.0 2013.3L1320.2 2007.7L1320.4 2001.3L1320.6 1996.2L1320.8 1990.9L1321.0 1985.1L1321.8 1981.4L1322.5 1975.1L1323.3 1970.3L1324.0 1966.8L1324.8 1959.5L1325.5 1954.2L1326.3 1949.0L1327.0 1945.6L1327.8 1939.2L1328.2 1944.3L1328.6 1950.0L1329.0 1955.7L1329.5 1961.4L1329.9 1963.6L1330.3 1969.5L1330.7 1973.5L1331.1 1979.5L1331.5 1985.4L1331.9 1989.4L1332.3 1994.6L1332.8 1999.3L1333.2 2006.3L1333.6 2010.8L1334.0 2016.0L1334.4 2020.1L1334.6 2026.0L1334.7 2030.3L1334.9 2033.7L1335.0 2038.8L1335.2 2046.3L1335.3 2050.2L1335.5 2055.8L1335.6 2060.3L1335.8 2066.3L1335.9 2069.3L1336.1 2074.2L1336.2 2079.4L1336.4 2086.0L1336.5 2090.6L1336.7 2095.4L1336.8 2099.5L1337.0 2105.2L1337.1 2109.8L1337.3 2114.3L1337.4 2121.9L1337.6 2126.5L1337.7 2131.5L1337.9 2135.3L1338.0 2141.7L1338.2 2146.6L1338.3 2149.9L1338.5 2157.1L1338.6 2161.7L1338.8 2164.5L1338.9 2169.7L1339.1 2174.7L1339.2 2181.5L1339.4 2185.0L1339.6 2190.1L1339.7 2194.8L1339.9 2201.2L1340.1 2205.9L1340.2 2211.8L1340.4 2215.8L1340.6 2222.4L1340.8 2227.3L1340.9 2231.8L1341.1 2238.6L1341.3 2242.6L1341.4 2247.6L1341.6 2251.8L1341.8 2257.1L1341.9 2263.5L1342.1 2267.5L1342.3 2271.9L1342.4 2277.9L1342.6 2283.3L1342.8 2287.3L1343.0 2292.8L1343.1 2299.9L1343.3 2304.7L1343.5 2308.7L1343.6 2314.8L1343.8 2319.6L1344.0 2323.3L1344.1 2329.5L1344.3 2333.2L1344.5 2339.9L1344.6 2344.8L1344.8 2348.7L1345.0 2355.0L1345.2 2359.3L1345.3 2365.7L1345.5 2371.8L1345.7 2376.4L1345.8 2379.3L1346.0 2386.0L1346.2 2390.9L1346.4 2397.0L1346.6 2400.2L1346.8 2404.6L1347.0 2410.5L1347.2 2415.5L1347.4 2422.0L1347.6 2427.2L1347.8 2431.3L1348.0 2436.9L1348.2 2440.9L1348.4 2445.5L1348.6 2451.0L1348.8 2456.8L1349.0 2460.8L1349.2 2467.3L1349.5 2471.2L1349.7 2475.6L1349.9 2481.5L1350.1 2487.6L1350.3 2491.1L1350.5 2496.0L1350.7 2501.6L1350.9 2508.0L1351.1 2512.6L1351.3 2517.4L1351.5 2521.0L1351.7 2527.1L1351.9 2532.4L1352.1 2536.3L1352.3 2542.0L1352.5 2545.9L1352.7 2553.2L1353.1 2557.6L1353.5 2562.6L1353.9 2568.1L1354.3 2573.0L1354.7 2576.8L1355.1 2582.7L1355.5 2586.3L1355.9 2593.0L1356.3 2597.2L1356.7 2602.7L1357.1 2608.7L1357.5 2612.1L1357.9 2616.8L1358.3 2623.7L1358.7 2627.3L1359.1 2634.2L1359.5 2639.3L1359.9 2642.1L1360.3 2648.3L1360.7 2654.5L1361.1 2658.7L1361.5 2663.7L1361.9 2667.3L1362.3 2673.2L1362.7 2679.4L1365.2 2681.5L1367.6 2688.1L1370.1 2691.4L1372.5 2695.9L1375.0 2702.0L1380.0 2702.6L1385.1 2705.0L1390.1 2708.5L1395.2 2708.4L1400.2 2712.4L1405.3 2712.4L1410.3 2715.3L1415.6 2714.3L1420.8 2717.6L1426.1 2716.7L1431.4 2717.4L1436.7 2719.4L1442.0 2718.4L1447.2 2717.8L1452.5 2719.3L1457.5 2716.0L1462.5 2713.7L1467.5 2713.9L1472.5 2711.3L1477.4 2708.7L1482.4 2706.1L1487.4 2703.0L1492.4 2701.2L1497.4 2701.4L1502.4 2703.4L1507.4 2704.8L1512.5 2704.6L1517.5 2705.3L1522.5 2706.5L1527.5 2707.2L1532.5 2708.9L1537.5 2708.3L1542.6 2706.4L1547.6 2705.5L1552.6 2706.4L1557.6 2706.8L1562.7 2705.1L1567.7 2706.1L1572.7 2704.7L1577.7 2703.8L1582.7 2705.3L1587.8 2704.7L1592.8 2703.4L1597.8 2704.0L1600.8 2706.9L1603.7 2712.4L1606.6 2716.2L1609.6 2720.0L1614.8 2719.6L1620.0 2721.0L1625.2 2720.2L1630.4 2722.8L1635.7 2722.0L1640.9 2723.0L1646.1 2721.3L1651.3 2721.9L1656.5 2722.9L1661.2 2720.4L1665.9 2718.8L1670.6 2717.4L1675.3 2715.7L1680.0 2711.6L1685.8 2715.1L1691.7 2715.3L1697.6 2719.0L1703.4 2721.1L1708.7 2719.1L1714.0 2716.5L1719.2 2715.0L1724.5 2714.7L1729.8 2713.6L1735.0 2709.8L1740.3 2708.8L1745.6 2709.1L1750.6 2710.5L1755.6 2710.4L1760.6 2711.8L1765.5 2713.1L1770.5 2715.5L1775.5 2718.8L1780.5 2719.6L1785.5 2720.0L1790.6 2719.8L1795.8 2719.5L1800.9 2720.2L1806.0 2719.3L1811.1 2719.1L1816.2 2720.3L1821.4 2719.0L1826.5 2718.4L1831.6 2718.3L1836.8 2720.4L1841.9 2719.9L1847.0 2717.8L1852.1 2720.5L1857.2 2720.1L1862.4 2717.4L1867.5 2719.9L1872.5 2717.4L1877.5 2718.2L1882.6 2718.1L1887.6 2719.5L1892.6 2720.0L1897.6 2718.9L1902.7 2720.1L1907.7 2720.9L1912.7 2718.9L1917.7 2719.4L1922.8 2721.4L1927.8 2719.2L1932.8 2720.3L1937.8 2720.3L1942.9 2721.5L1947.9 2719.9L1952.9 2720.0L1957.9 2722.0L1963.0 2722.5L1968.0 2720.7L1973.0 2722.5L1978.2 2718.4L1983.5 2717.3L1988.8 2713.9L1994.0 2710.5" fill="none" stroke="#0000c0" stroke-width="12" stroke-linejoin="round" stroke-linecap="round"/>
<line x1="1493" y1="2092" x2="1636" y2="2092" stroke="#00bf8c" stroke-width="12.7" stroke-linecap="round"/>
<text x="1676" y="2113.6" font-size="56" fill="#000" font-weight="bold" text-anchor="start" textLength="236" lengthAdjust="spacingAndGlyphs" >Cellulose</text>
<line x1="1493" y1="2170.6" x2="1636" y2="2170.6" stroke="#595959" stroke-width="12.7" stroke-linecap="round"/>
<text x="1676" y="2192" font-size="56" fill="#000" font-weight="bold" text-anchor="start" textLength="100.5" lengthAdjust="spacingAndGlyphs" >CNF</text>
<line x1="1493" y1="2250.3" x2="1636" y2="2250.3" stroke="#0000c0" stroke-width="12.7" stroke-linecap="round"/>
<text x="1676" y="2272.7" font-size="56" fill="#000" font-weight="bold" text-anchor="start" textLength="100" lengthAdjust="spacingAndGlyphs" >PEG</text>
<line x1="1493" y1="2329" x2="1636" y2="2329" stroke="#ff7f00" stroke-width="12.7" stroke-linecap="round"/>
<text x="1676" y="2351.4" font-size="56" fill="#000" font-weight="bold" text-anchor="start" textLength="102" lengthAdjust="spacingAndGlyphs" >rGO</text>
<line x1="1493" y1="2409" x2="1636" y2="2409" stroke="#00bfbf" stroke-width="12.7" stroke-linecap="round"/>
<text x="1676" y="2431.8" font-size="56" fill="#000" font-weight="bold" text-anchor="start" textLength="236" lengthAdjust="spacingAndGlyphs" >CNF/PEG</text>
<line x1="1493" y1="2488" x2="1636" y2="2488" stroke="#6a00c8" stroke-width="12.7" stroke-linecap="round"/>
<text x="1676" y="2510.5" font-size="56" fill="#000" font-weight="bold" text-anchor="start" textLength="236" lengthAdjust="spacingAndGlyphs" >CNF/rGO</text>
</svg>
</body></html>
